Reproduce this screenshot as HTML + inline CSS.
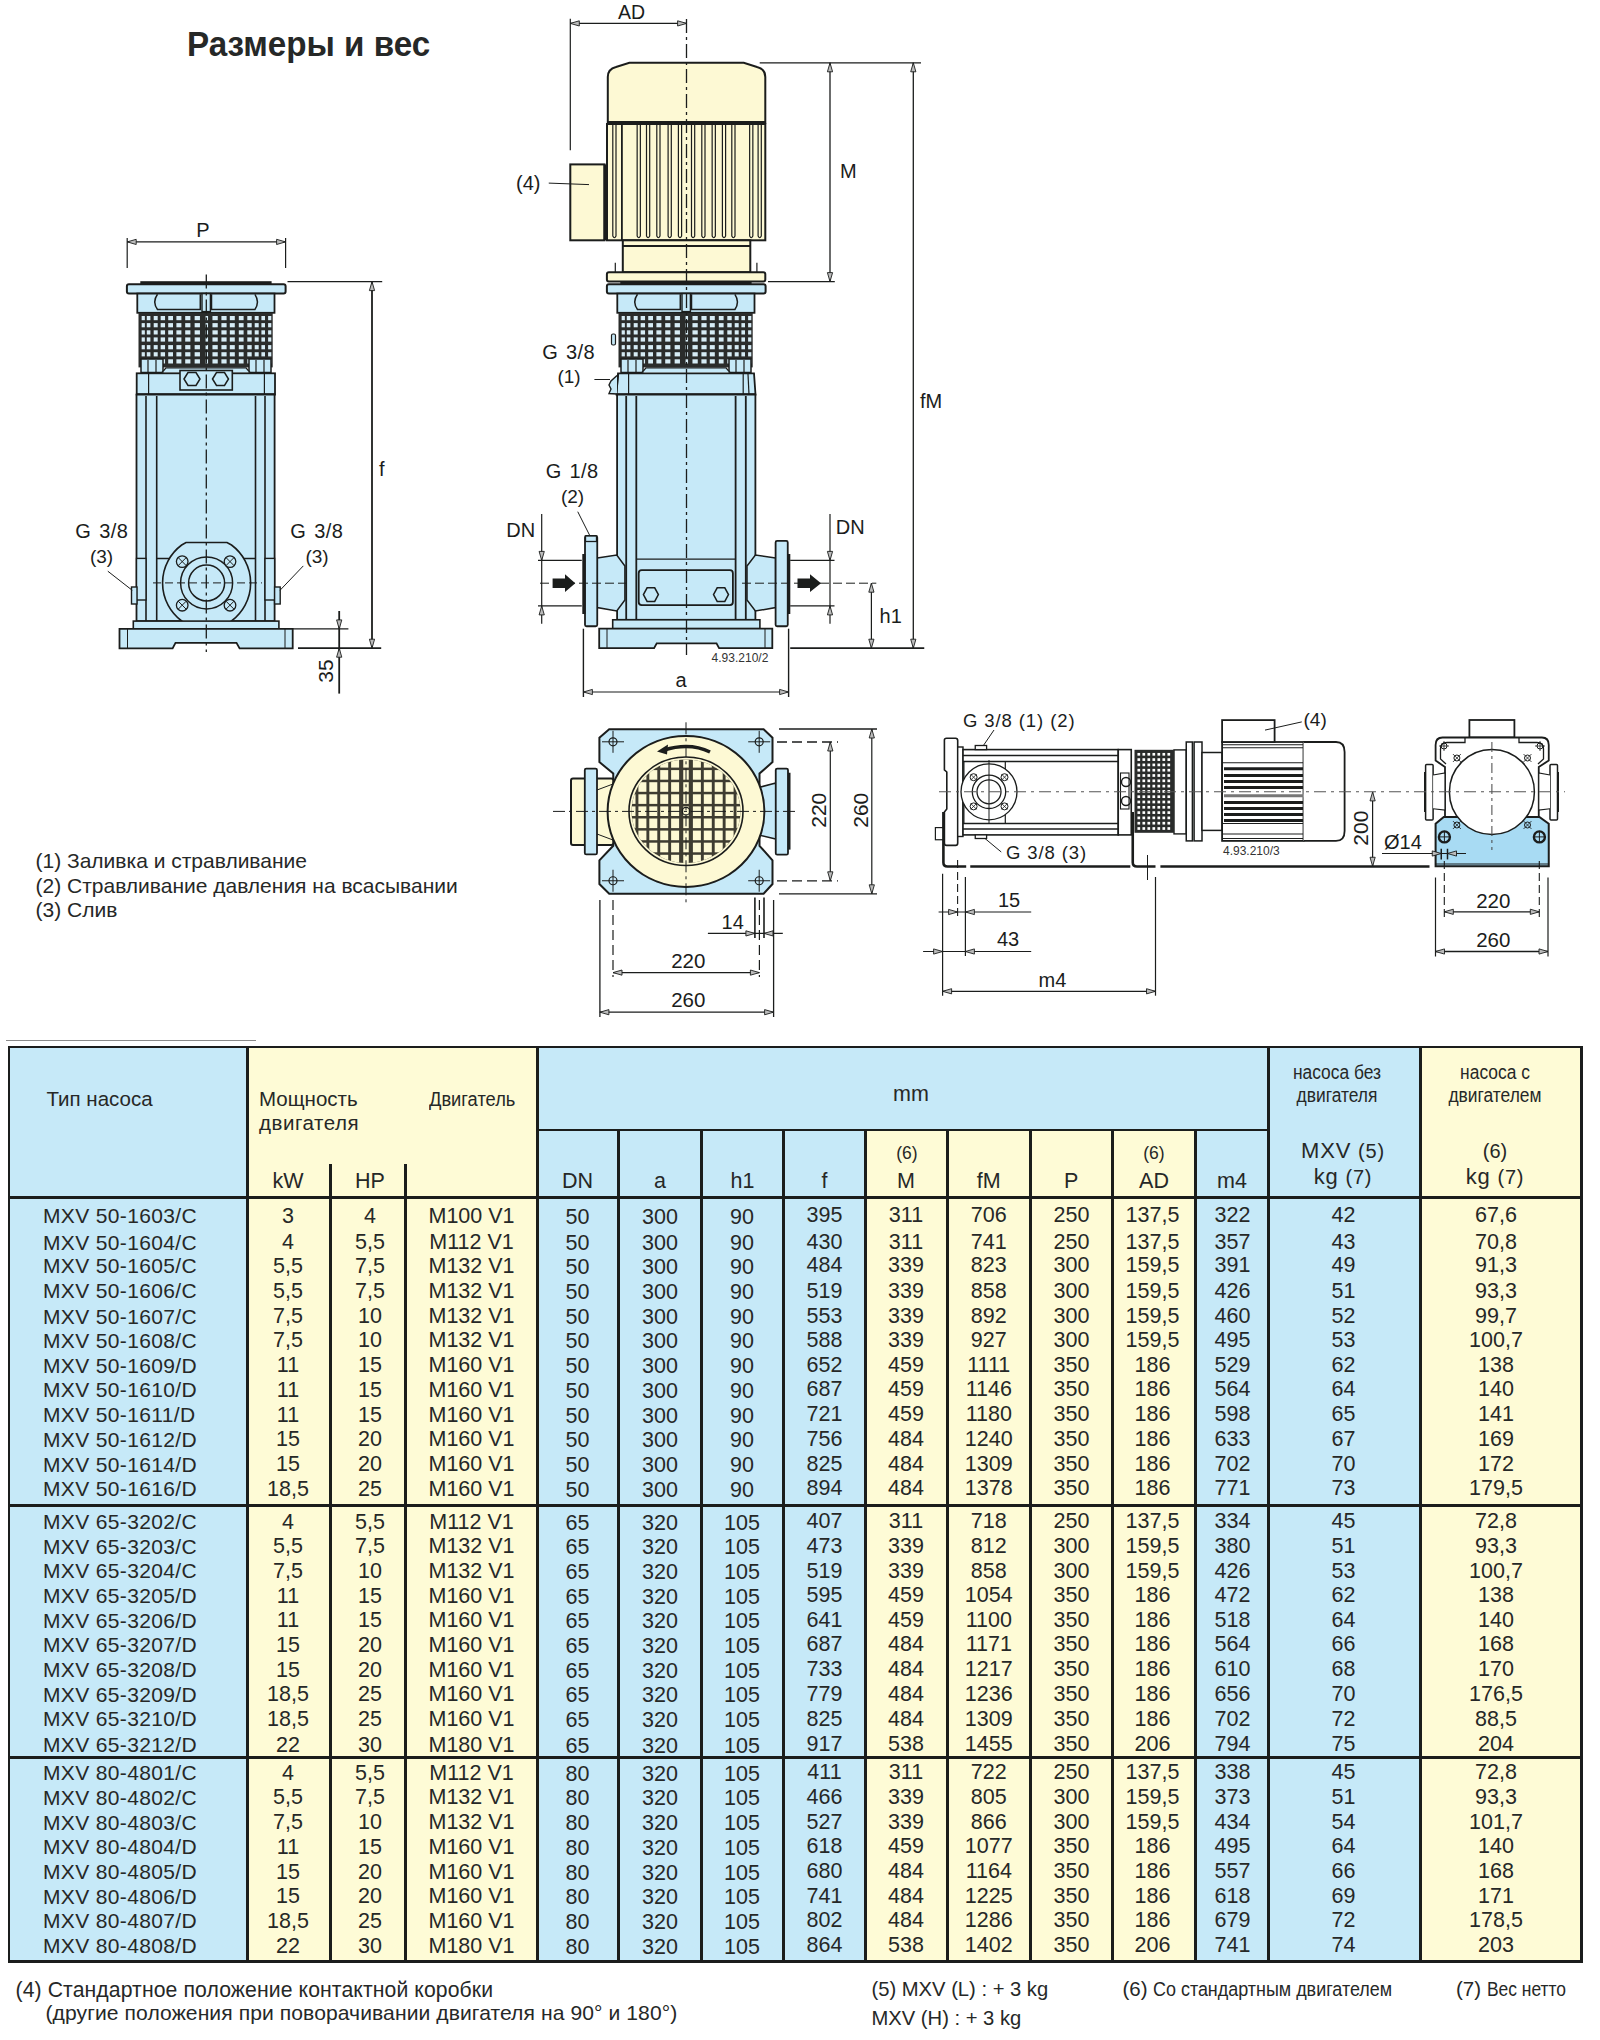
<!DOCTYPE html>
<html><head><meta charset="utf-8"><style>
html,body{margin:0;padding:0;background:#fff;}
body{width:1600px;height:2040px;position:relative;overflow:hidden;font-family:"Liberation Sans",sans-serif;color:#262827;}
.t{position:absolute;white-space:nowrap;line-height:1;}
.r{position:absolute;}
svg{position:absolute;left:0;top:0;}
</style></head><body>
<svg width="1600" height="2040" viewBox="0 0 1600 2040" font-family="Liberation Sans, sans-serif">
<rect x="140.3" y="281.2" width="131.3" height="3" fill="#1b1d1c"/>
<rect x="126.9" y="284.2" width="158.7" height="9.4" fill="#c6e9f8" stroke="#1b1d1c" stroke-width="2" rx="2"/>
<rect x="137.3" y="293.6" width="137.2" height="19.2" fill="#c6e9f8" stroke="#1b1d1c" stroke-width="1.8"/>
<path d="M157.5,294.3 Q152,302 157.5,309.5 L200.3,309.5 L200.3,294.3" fill="none" stroke="#1b1d1c" stroke-width="1.5" />
<path d="M254.9,294.3 Q260,302 254.9,309.5 L211.5,309.5 L211.5,294.3" fill="none" stroke="#1b1d1c" stroke-width="1.5" />
<rect x="202" y="293.6" width="8.4" height="18" fill="#c6e9f8" stroke="#1b1d1c" stroke-width="1.4"/>
<rect x="138.5" y="312.8" width="134.2" height="54.6" fill="#2a2c2b"/>
<rect x="141.65" y="316" width="3.2" height="4.2" fill="#d6ecf5"/>
<rect x="141.65" y="323.1" width="3.2" height="4.2" fill="#d6ecf5"/>
<rect x="141.65" y="330.3" width="3.2" height="4.2" fill="#d6ecf5"/>
<rect x="141.65" y="337.4" width="3.2" height="4.2" fill="#d6ecf5"/>
<rect x="141.65" y="345.1" width="3.2" height="4.2" fill="#d6ecf5"/>
<rect x="141.65" y="352.2" width="3.2" height="4.2" fill="#d6ecf5"/>
<rect x="141.65" y="359.3" width="3.2" height="4.2" fill="#d6ecf5"/>
<rect x="146.8" y="316" width="3.6" height="4.2" fill="#d6ecf5"/>
<rect x="146.8" y="323.1" width="3.6" height="4.2" fill="#d6ecf5"/>
<rect x="146.8" y="330.3" width="3.6" height="4.2" fill="#d6ecf5"/>
<rect x="146.8" y="337.4" width="3.6" height="4.2" fill="#d6ecf5"/>
<rect x="146.8" y="345.1" width="3.6" height="4.2" fill="#d6ecf5"/>
<rect x="146.8" y="352.2" width="3.6" height="4.2" fill="#d6ecf5"/>
<rect x="146.8" y="359.3" width="3.6" height="4.2" fill="#d6ecf5"/>
<rect x="153.7" y="316" width="4" height="4.2" fill="#d6ecf5"/>
<rect x="153.7" y="323.1" width="4" height="4.2" fill="#d6ecf5"/>
<rect x="153.7" y="330.3" width="4" height="4.2" fill="#d6ecf5"/>
<rect x="153.7" y="337.4" width="4" height="4.2" fill="#d6ecf5"/>
<rect x="153.7" y="345.1" width="4" height="4.2" fill="#d6ecf5"/>
<rect x="153.7" y="352.2" width="4" height="4.2" fill="#d6ecf5"/>
<rect x="153.7" y="359.3" width="4" height="4.2" fill="#d6ecf5"/>
<rect x="160.65" y="316" width="4.4" height="4.2" fill="#d6ecf5"/>
<rect x="160.65" y="323.1" width="4.4" height="4.2" fill="#d6ecf5"/>
<rect x="160.65" y="330.3" width="4.4" height="4.2" fill="#d6ecf5"/>
<rect x="160.65" y="337.4" width="4.4" height="4.2" fill="#d6ecf5"/>
<rect x="160.65" y="345.1" width="4.4" height="4.2" fill="#d6ecf5"/>
<rect x="160.65" y="352.2" width="4.4" height="4.2" fill="#d6ecf5"/>
<rect x="160.65" y="359.3" width="4.4" height="4.2" fill="#d6ecf5"/>
<rect x="168.2" y="316" width="4.8" height="4.2" fill="#d6ecf5"/>
<rect x="168.2" y="323.1" width="4.8" height="4.2" fill="#d6ecf5"/>
<rect x="168.2" y="330.3" width="4.8" height="4.2" fill="#d6ecf5"/>
<rect x="168.2" y="337.4" width="4.8" height="4.2" fill="#d6ecf5"/>
<rect x="168.2" y="345.1" width="4.8" height="4.2" fill="#d6ecf5"/>
<rect x="168.2" y="352.2" width="4.8" height="4.2" fill="#d6ecf5"/>
<rect x="168.2" y="359.3" width="4.8" height="4.2" fill="#d6ecf5"/>
<rect x="176.4" y="316" width="5" height="4.2" fill="#d6ecf5"/>
<rect x="176.4" y="323.1" width="5" height="4.2" fill="#d6ecf5"/>
<rect x="176.4" y="330.3" width="5" height="4.2" fill="#d6ecf5"/>
<rect x="176.4" y="337.4" width="5" height="4.2" fill="#d6ecf5"/>
<rect x="176.4" y="345.1" width="5" height="4.2" fill="#d6ecf5"/>
<rect x="176.4" y="352.2" width="5" height="4.2" fill="#d6ecf5"/>
<rect x="176.4" y="359.3" width="5" height="4.2" fill="#d6ecf5"/>
<rect x="185.2" y="316" width="5.2" height="4.2" fill="#d6ecf5"/>
<rect x="185.2" y="323.1" width="5.2" height="4.2" fill="#d6ecf5"/>
<rect x="185.2" y="330.3" width="5.2" height="4.2" fill="#d6ecf5"/>
<rect x="185.2" y="337.4" width="5.2" height="4.2" fill="#d6ecf5"/>
<rect x="185.2" y="345.1" width="5.2" height="4.2" fill="#d6ecf5"/>
<rect x="185.2" y="352.2" width="5.2" height="4.2" fill="#d6ecf5"/>
<rect x="185.2" y="359.3" width="5.2" height="4.2" fill="#d6ecf5"/>
<rect x="194.65" y="316" width="5.3" height="4.2" fill="#d6ecf5"/>
<rect x="194.65" y="323.1" width="5.3" height="4.2" fill="#d6ecf5"/>
<rect x="194.65" y="330.3" width="5.3" height="4.2" fill="#d6ecf5"/>
<rect x="194.65" y="337.4" width="5.3" height="4.2" fill="#d6ecf5"/>
<rect x="194.65" y="345.1" width="5.3" height="4.2" fill="#d6ecf5"/>
<rect x="194.65" y="352.2" width="5.3" height="4.2" fill="#d6ecf5"/>
<rect x="194.65" y="359.3" width="5.3" height="4.2" fill="#d6ecf5"/>
<rect x="205.55" y="316" width="2.5" height="4.2" fill="#d6ecf5"/>
<rect x="205.55" y="323.1" width="2.5" height="4.2" fill="#d6ecf5"/>
<rect x="205.55" y="330.3" width="2.5" height="4.2" fill="#d6ecf5"/>
<rect x="205.55" y="337.4" width="2.5" height="4.2" fill="#d6ecf5"/>
<rect x="205.55" y="345.1" width="2.5" height="4.2" fill="#d6ecf5"/>
<rect x="205.55" y="352.2" width="2.5" height="4.2" fill="#d6ecf5"/>
<rect x="205.55" y="359.3" width="2.5" height="4.2" fill="#d6ecf5"/>
<rect x="212.45" y="316" width="5.3" height="4.2" fill="#d6ecf5"/>
<rect x="212.45" y="323.1" width="5.3" height="4.2" fill="#d6ecf5"/>
<rect x="212.45" y="330.3" width="5.3" height="4.2" fill="#d6ecf5"/>
<rect x="212.45" y="337.4" width="5.3" height="4.2" fill="#d6ecf5"/>
<rect x="212.45" y="345.1" width="5.3" height="4.2" fill="#d6ecf5"/>
<rect x="212.45" y="352.2" width="5.3" height="4.2" fill="#d6ecf5"/>
<rect x="212.45" y="359.3" width="5.3" height="4.2" fill="#d6ecf5"/>
<rect x="221.4" y="316" width="5.2" height="4.2" fill="#d6ecf5"/>
<rect x="221.4" y="323.1" width="5.2" height="4.2" fill="#d6ecf5"/>
<rect x="221.4" y="330.3" width="5.2" height="4.2" fill="#d6ecf5"/>
<rect x="221.4" y="337.4" width="5.2" height="4.2" fill="#d6ecf5"/>
<rect x="221.4" y="345.1" width="5.2" height="4.2" fill="#d6ecf5"/>
<rect x="221.4" y="352.2" width="5.2" height="4.2" fill="#d6ecf5"/>
<rect x="221.4" y="359.3" width="5.2" height="4.2" fill="#d6ecf5"/>
<rect x="229.8" y="316" width="5" height="4.2" fill="#d6ecf5"/>
<rect x="229.8" y="323.1" width="5" height="4.2" fill="#d6ecf5"/>
<rect x="229.8" y="330.3" width="5" height="4.2" fill="#d6ecf5"/>
<rect x="229.8" y="337.4" width="5" height="4.2" fill="#d6ecf5"/>
<rect x="229.8" y="345.1" width="5" height="4.2" fill="#d6ecf5"/>
<rect x="229.8" y="352.2" width="5" height="4.2" fill="#d6ecf5"/>
<rect x="229.8" y="359.3" width="5" height="4.2" fill="#d6ecf5"/>
<rect x="238.8" y="316" width="4.8" height="4.2" fill="#d6ecf5"/>
<rect x="238.8" y="323.1" width="4.8" height="4.2" fill="#d6ecf5"/>
<rect x="238.8" y="330.3" width="4.8" height="4.2" fill="#d6ecf5"/>
<rect x="238.8" y="337.4" width="4.8" height="4.2" fill="#d6ecf5"/>
<rect x="238.8" y="345.1" width="4.8" height="4.2" fill="#d6ecf5"/>
<rect x="238.8" y="352.2" width="4.8" height="4.2" fill="#d6ecf5"/>
<rect x="238.8" y="359.3" width="4.8" height="4.2" fill="#d6ecf5"/>
<rect x="247.3" y="316" width="4.4" height="4.2" fill="#d6ecf5"/>
<rect x="247.3" y="323.1" width="4.4" height="4.2" fill="#d6ecf5"/>
<rect x="247.3" y="330.3" width="4.4" height="4.2" fill="#d6ecf5"/>
<rect x="247.3" y="337.4" width="4.4" height="4.2" fill="#d6ecf5"/>
<rect x="247.3" y="345.1" width="4.4" height="4.2" fill="#d6ecf5"/>
<rect x="247.3" y="352.2" width="4.4" height="4.2" fill="#d6ecf5"/>
<rect x="247.3" y="359.3" width="4.4" height="4.2" fill="#d6ecf5"/>
<rect x="254.7" y="316" width="4" height="4.2" fill="#d6ecf5"/>
<rect x="254.7" y="323.1" width="4" height="4.2" fill="#d6ecf5"/>
<rect x="254.7" y="330.3" width="4" height="4.2" fill="#d6ecf5"/>
<rect x="254.7" y="337.4" width="4" height="4.2" fill="#d6ecf5"/>
<rect x="254.7" y="345.1" width="4" height="4.2" fill="#d6ecf5"/>
<rect x="254.7" y="352.2" width="4" height="4.2" fill="#d6ecf5"/>
<rect x="254.7" y="359.3" width="4" height="4.2" fill="#d6ecf5"/>
<rect x="261.4" y="316" width="3.6" height="4.2" fill="#d6ecf5"/>
<rect x="261.4" y="323.1" width="3.6" height="4.2" fill="#d6ecf5"/>
<rect x="261.4" y="330.3" width="3.6" height="4.2" fill="#d6ecf5"/>
<rect x="261.4" y="337.4" width="3.6" height="4.2" fill="#d6ecf5"/>
<rect x="261.4" y="345.1" width="3.6" height="4.2" fill="#d6ecf5"/>
<rect x="261.4" y="352.2" width="3.6" height="4.2" fill="#d6ecf5"/>
<rect x="261.4" y="359.3" width="3.6" height="4.2" fill="#d6ecf5"/>
<rect x="268.1" y="316" width="3.2" height="4.2" fill="#d6ecf5"/>
<rect x="268.1" y="323.1" width="3.2" height="4.2" fill="#d6ecf5"/>
<rect x="268.1" y="330.3" width="3.2" height="4.2" fill="#d6ecf5"/>
<rect x="268.1" y="337.4" width="3.2" height="4.2" fill="#d6ecf5"/>
<rect x="268.1" y="345.1" width="3.2" height="4.2" fill="#d6ecf5"/>
<rect x="268.1" y="352.2" width="3.2" height="4.2" fill="#d6ecf5"/>
<rect x="268.1" y="359.3" width="3.2" height="4.2" fill="#d6ecf5"/>
<rect x="141" y="359" width="22" height="13.5" fill="#c6e9f8" stroke="#1b1d1c" stroke-width="1.5"/>
<rect x="249" y="359" width="22" height="13.5" fill="#c6e9f8" stroke="#1b1d1c" stroke-width="1.5"/>
<line x1="148" y1="360" x2="148" y2="372" stroke="#1b1d1c" stroke-width="1.2"/>
<line x1="156" y1="360" x2="156" y2="372" stroke="#1b1d1c" stroke-width="1.2"/>
<line x1="256" y1="360" x2="256" y2="372" stroke="#1b1d1c" stroke-width="1.2"/>
<line x1="264" y1="360" x2="264" y2="372" stroke="#1b1d1c" stroke-width="1.2"/>
<path d="M162,372.5 L166,367.8 L246,367.8 L250,372.5" fill="#c6e9f8" stroke="#1b1d1c" stroke-width="1.3" />
<rect x="136.7" y="373.3" width="138.3" height="21.3" fill="#c6e9f8" stroke="#1b1d1c" stroke-width="1.8"/>
<line x1="148.6" y1="373.3" x2="148.6" y2="394.6" stroke="#1b1d1c" stroke-width="1.2"/>
<line x1="264.4" y1="373.3" x2="264.4" y2="394.6" stroke="#1b1d1c" stroke-width="1.2"/>
<rect x="180" y="370.5" width="52.3" height="19.5" fill="#c6e9f8" stroke="#1b1d1c" stroke-width="1.6"/>
<polygon points="184,379 188,372.5 196,372.5 200,379 196,385.5 188,385.5" fill="#c6e9f8" stroke="#1b1d1c" stroke-width="1.5"/>
<polygon points="212.5,379 216.5,372.5 224.5,372.5 228.5,379 224.5,385.5 216.5,385.5" fill="#c6e9f8" stroke="#1b1d1c" stroke-width="1.5"/>
<line x1="136.7" y1="394.8" x2="275" y2="394.8" stroke="#1b1d1c" stroke-width="3"/>
<rect x="136.5" y="394.6" width="138.1" height="226.5" fill="#c6e9f8" stroke="#1b1d1c" stroke-width="1.8"/>
<line x1="146" y1="396" x2="146" y2="621" stroke="#1b1d1c" stroke-width="1.6"/>
<line x1="156.7" y1="396" x2="156.7" y2="621" stroke="#1b1d1c" stroke-width="1.6"/>
<line x1="255.5" y1="396" x2="255.5" y2="621" stroke="#1b1d1c" stroke-width="1.6"/>
<line x1="265" y1="396" x2="265" y2="621" stroke="#1b1d1c" stroke-width="1.6"/>
<line x1="156.7" y1="558.5" x2="255.5" y2="558.5" stroke="#1b1d1c" stroke-width="1.3"/>
<rect x="136.5" y="558.4" width="9.5" height="41.6" fill="#c6e9f8" stroke="#1b1d1c" stroke-width="1.4"/>
<rect x="265" y="558.4" width="9.6" height="41.6" fill="#c6e9f8" stroke="#1b1d1c" stroke-width="1.4"/>
<rect x="131.5" y="587" width="5.5" height="17" fill="#c6e9f8" stroke="#1b1d1c" stroke-width="1.4"/>
<rect x="274.6" y="587" width="5.6" height="17" fill="#c6e9f8" stroke="#1b1d1c" stroke-width="1.4"/>
<path d="M186,542.5 L227,542.5 L231.5,545 A47.3,47.3 0 0 1 231.5,621 L227,623.2 L186,623.2 L181.7,621 A47.3,47.3 0 0 1 181.7,545 Z" fill="#c6e9f8" stroke="#1b1d1c" stroke-width="1.6" />
<circle cx="206.6" cy="582.9" r="26" fill="#c6e9f8" stroke="#1b1d1c" stroke-width="1.5"/>
<circle cx="206.6" cy="582.9" r="18" fill="#c6e9f8" stroke="#1b1d1c" stroke-width="1.5"/>
<circle cx="182.2" cy="561.6" r="5.8" fill="#c6e9f8" stroke="#1b1d1c" stroke-width="1.3"/>
<line x1="178.2" y1="557.6" x2="186.2" y2="565.6" stroke="#1b1d1c" stroke-width="1"/>
<line x1="178.2" y1="565.6" x2="186.2" y2="557.6" stroke="#1b1d1c" stroke-width="1"/>
<circle cx="230" cy="561.6" r="5.8" fill="#c6e9f8" stroke="#1b1d1c" stroke-width="1.3"/>
<line x1="226" y1="557.6" x2="234" y2="565.6" stroke="#1b1d1c" stroke-width="1"/>
<line x1="226" y1="565.6" x2="234" y2="557.6" stroke="#1b1d1c" stroke-width="1"/>
<circle cx="182.2" cy="605.2" r="5.8" fill="#c6e9f8" stroke="#1b1d1c" stroke-width="1.3"/>
<line x1="178.2" y1="601.2" x2="186.2" y2="609.2" stroke="#1b1d1c" stroke-width="1"/>
<line x1="178.2" y1="609.2" x2="186.2" y2="601.2" stroke="#1b1d1c" stroke-width="1"/>
<circle cx="230" cy="605.2" r="5.8" fill="#c6e9f8" stroke="#1b1d1c" stroke-width="1.3"/>
<line x1="226" y1="601.2" x2="234" y2="609.2" stroke="#1b1d1c" stroke-width="1"/>
<line x1="226" y1="609.2" x2="234" y2="601.2" stroke="#1b1d1c" stroke-width="1"/>
<line x1="153" y1="582.9" x2="262" y2="582.9" stroke="#1b1d1c" stroke-width="1" stroke-dasharray="8 4"/>
<rect x="133.3" y="621.1" width="145.6" height="7.7" fill="#c6e9f8" stroke="#1b1d1c" stroke-width="1.6"/>
<path d="M119.5,628.8 L292.7,628.8 L292.7,648.4 L239.6,648.4 L236.5,642.8 L175.5,642.8 L172.6,648.4 L119.5,648.4 Z" fill="#c6e9f8" stroke="#1b1d1c" stroke-width="1.8" />
<line x1="127.5" y1="629" x2="127.5" y2="648" stroke="#1b1d1c" stroke-width="1"/>
<line x1="285" y1="629" x2="285" y2="648" stroke="#1b1d1c" stroke-width="1"/>
<line x1="206.3" y1="274.5" x2="206.3" y2="652" stroke="#1b1d1c" stroke-width="1.3" stroke-dasharray="14 4 3 4"/>
<line x1="127.2" y1="238.1" x2="127.2" y2="268.1" stroke="#1b1d1c" stroke-width="1.2"/>
<line x1="285.6" y1="238.1" x2="285.6" y2="268.1" stroke="#1b1d1c" stroke-width="1.2"/>
<line x1="127.2" y1="241.9" x2="285.6" y2="241.9" stroke="#1b1d1c" stroke-width="1.1"/>
<polygon points="127.2,241.9 136.2,239.3 136.2,244.5" fill="#bbb" stroke="#1b1d1c" stroke-width="0.9"/>
<polygon points="285.6,241.9 276.6,239.3 276.6,244.5" fill="#bbb" stroke="#1b1d1c" stroke-width="0.9"/>
<text x="202.9" y="237.2" font-size="20" text-anchor="middle" fill="#1b1d1c">P</text>
<line x1="287.5" y1="281.6" x2="382.2" y2="281.6" stroke="#1b1d1c" stroke-width="1.3"/>
<line x1="298" y1="648.2" x2="381.2" y2="648.2" stroke="#1b1d1c" stroke-width="1.8"/>
<line x1="372" y1="281.6" x2="372" y2="648.2" stroke="#1b1d1c" stroke-width="1.8"/>
<polygon points="372,281.6 369.4,290.6 374.6,290.6" fill="#bbb" stroke="#1b1d1c" stroke-width="0.9"/>
<polygon points="372,648.2 369.4,639.2 374.6,639.2" fill="#bbb" stroke="#1b1d1c" stroke-width="0.9"/>
<text x="379" y="475.5" font-size="20" text-anchor="start" fill="#1b1d1c">f</text>
<line x1="292.8" y1="628.9" x2="348.4" y2="628.9" stroke="#1b1d1c" stroke-width="1.3"/>
<line x1="339.2" y1="611" x2="339.2" y2="693.6" stroke="#1b1d1c" stroke-width="1.8"/>
<polygon points="339.2,628.9 336.6,619.9 341.8,619.9" fill="#bbb" stroke="#1b1d1c" stroke-width="0.9"/>
<polygon points="339.2,648.2 336.6,657.2 341.8,657.2" fill="#bbb" stroke="#1b1d1c" stroke-width="0.9"/>
<text x="333.4" y="671.1" font-size="21" text-anchor="middle" fill="#1b1d1c" transform="rotate(-90 333.4 671.1)">35</text>
<text x="75.3" y="537.8" font-size="20" text-anchor="start" fill="#1b1d1c">G</text>
<text x="128.3" y="537.8" font-size="20" text-anchor="end" fill="#1b1d1c" letter-spacing="0.4">3/8</text>
<text x="101.5" y="562.5" font-size="19" text-anchor="middle" fill="#1b1d1c">(3)</text>
<line x1="107.8" y1="571.2" x2="132.25" y2="590.3" stroke="#1b1d1c" stroke-width="1"/>
<text x="290.3" y="537.8" font-size="20" text-anchor="start" fill="#1b1d1c">G</text>
<text x="343.3" y="537.8" font-size="20" text-anchor="end" fill="#1b1d1c" letter-spacing="0.4">3/8</text>
<text x="317" y="562.5" font-size="19" text-anchor="middle" fill="#1b1d1c">(3)</text>
<line x1="303.3" y1="565.9" x2="280" y2="590.3" stroke="#1b1d1c" stroke-width="1"/>
<path d="M607.8,122.8 L607.8,77 Q607.8,69 616,67 L629.4,62.8 L743.75,62.8 L757,67 Q765.3,69 765.3,77 L765.3,122.8 Z" fill="#fdf9d4" stroke="#1b1d1c" stroke-width="2" />
<rect x="607" y="121" width="158.3" height="3" fill="#1b1d1c"/>
<rect x="607" y="124" width="158.3" height="116.3" fill="#fdf9d4" stroke="#1b1d1c" stroke-width="2"/>
<path d="M612.8,124 L612.8,236 Q614.4,239.5 616,236 L616,124" fill="none" stroke="#1b1d1c" stroke-width="1.2" />
<path d="M637.15,124 L637.15,236 Q638.75,239.5 640.35,236 L640.35,124" fill="none" stroke="#1b1d1c" stroke-width="1.2" />
<path d="M646.5,124 L646.5,236 Q648.1,239.5 649.7,236 L649.7,124" fill="none" stroke="#1b1d1c" stroke-width="1.2" />
<path d="M656.8,124 L656.8,236 Q658.4,239.5 660,236 L660,124" fill="none" stroke="#1b1d1c" stroke-width="1.2" />
<path d="M668.1,124 L668.1,236 Q669.7,239.5 671.3,236 L671.3,124" fill="none" stroke="#1b1d1c" stroke-width="1.2" />
<path d="M678.4,124 L678.4,236 Q680,239.5 681.6,236 L681.6,124" fill="none" stroke="#1b1d1c" stroke-width="1.2" />
<path d="M691.5,124 L691.5,236 Q693.1,239.5 694.7,236 L694.7,124" fill="none" stroke="#1b1d1c" stroke-width="1.2" />
<path d="M701.8,124 L701.8,236 Q703.4,239.5 705,236 L705,124" fill="none" stroke="#1b1d1c" stroke-width="1.2" />
<path d="M712.15,124 L712.15,236 Q713.75,239.5 715.35,236 L715.35,124" fill="none" stroke="#1b1d1c" stroke-width="1.2" />
<path d="M722.4,124 L722.4,236 Q724,239.5 725.6,236 L725.6,124" fill="none" stroke="#1b1d1c" stroke-width="1.2" />
<path d="M731.8,124 L731.8,236 Q733.4,239.5 735,236 L735,124" fill="none" stroke="#1b1d1c" stroke-width="1.2" />
<path d="M749.65,124 L749.65,236 Q751.25,239.5 752.85,236 L752.85,124" fill="none" stroke="#1b1d1c" stroke-width="1.2" />
<path d="M758.1,124 L758.1,236 Q759.7,239.5 761.3,236 L761.3,124" fill="none" stroke="#1b1d1c" stroke-width="1.2" />
<line x1="621.9" y1="124" x2="621.9" y2="240" stroke="#1b1d1c" stroke-width="1.8"/>
<rect x="570.3" y="164.4" width="34.2" height="75.9" fill="#fdf9d4" stroke="#1b1d1c" stroke-width="2"/>
<rect x="603.5" y="164.4" width="4" height="75.9" fill="#1b1d1c"/>
<rect x="622.8" y="240.3" width="127.5" height="31.9" fill="#fdf9d4" stroke="#1b1d1c" stroke-width="2"/>
<line x1="622.8" y1="246" x2="750.3" y2="246" stroke="#1b1d1c" stroke-width="1.8"/>
<line x1="615.3" y1="262.8" x2="615.3" y2="272" stroke="#1b1d1c" stroke-width="1.2"/>
<line x1="756.9" y1="262.8" x2="756.9" y2="272" stroke="#1b1d1c" stroke-width="1.2"/>
<rect x="606.9" y="272.2" width="158.4" height="9.4" fill="#fdf9d4" stroke="#1b1d1c" stroke-width="2" rx="2"/>
<rect x="620.3" y="281.2" width="131.3" height="3" fill="#1b1d1c"/>
<rect x="606.9" y="284.2" width="158.7" height="9.4" fill="#c6e9f8" stroke="#1b1d1c" stroke-width="2" rx="2"/>
<rect x="617.3" y="293.6" width="137.2" height="19.2" fill="#c6e9f8" stroke="#1b1d1c" stroke-width="1.8"/>
<path d="M637.5,294.3 Q632,302 637.5,309.5 L680.3,309.5 L680.3,294.3" fill="none" stroke="#1b1d1c" stroke-width="1.5" />
<path d="M734.9,294.3 Q740,302 734.9,309.5 L691.5,309.5 L691.5,294.3" fill="none" stroke="#1b1d1c" stroke-width="1.5" />
<rect x="682" y="293.6" width="8.4" height="18" fill="#c6e9f8" stroke="#1b1d1c" stroke-width="1.4"/>
<rect x="618.5" y="312.8" width="134.2" height="54.6" fill="#2a2c2b"/>
<rect x="621.65" y="316" width="3.2" height="4.2" fill="#d6ecf5"/>
<rect x="621.65" y="323.1" width="3.2" height="4.2" fill="#d6ecf5"/>
<rect x="621.65" y="330.3" width="3.2" height="4.2" fill="#d6ecf5"/>
<rect x="621.65" y="337.4" width="3.2" height="4.2" fill="#d6ecf5"/>
<rect x="621.65" y="345.1" width="3.2" height="4.2" fill="#d6ecf5"/>
<rect x="621.65" y="352.2" width="3.2" height="4.2" fill="#d6ecf5"/>
<rect x="621.65" y="359.3" width="3.2" height="4.2" fill="#d6ecf5"/>
<rect x="626.8" y="316" width="3.6" height="4.2" fill="#d6ecf5"/>
<rect x="626.8" y="323.1" width="3.6" height="4.2" fill="#d6ecf5"/>
<rect x="626.8" y="330.3" width="3.6" height="4.2" fill="#d6ecf5"/>
<rect x="626.8" y="337.4" width="3.6" height="4.2" fill="#d6ecf5"/>
<rect x="626.8" y="345.1" width="3.6" height="4.2" fill="#d6ecf5"/>
<rect x="626.8" y="352.2" width="3.6" height="4.2" fill="#d6ecf5"/>
<rect x="626.8" y="359.3" width="3.6" height="4.2" fill="#d6ecf5"/>
<rect x="633.7" y="316" width="4" height="4.2" fill="#d6ecf5"/>
<rect x="633.7" y="323.1" width="4" height="4.2" fill="#d6ecf5"/>
<rect x="633.7" y="330.3" width="4" height="4.2" fill="#d6ecf5"/>
<rect x="633.7" y="337.4" width="4" height="4.2" fill="#d6ecf5"/>
<rect x="633.7" y="345.1" width="4" height="4.2" fill="#d6ecf5"/>
<rect x="633.7" y="352.2" width="4" height="4.2" fill="#d6ecf5"/>
<rect x="633.7" y="359.3" width="4" height="4.2" fill="#d6ecf5"/>
<rect x="640.65" y="316" width="4.4" height="4.2" fill="#d6ecf5"/>
<rect x="640.65" y="323.1" width="4.4" height="4.2" fill="#d6ecf5"/>
<rect x="640.65" y="330.3" width="4.4" height="4.2" fill="#d6ecf5"/>
<rect x="640.65" y="337.4" width="4.4" height="4.2" fill="#d6ecf5"/>
<rect x="640.65" y="345.1" width="4.4" height="4.2" fill="#d6ecf5"/>
<rect x="640.65" y="352.2" width="4.4" height="4.2" fill="#d6ecf5"/>
<rect x="640.65" y="359.3" width="4.4" height="4.2" fill="#d6ecf5"/>
<rect x="648.2" y="316" width="4.8" height="4.2" fill="#d6ecf5"/>
<rect x="648.2" y="323.1" width="4.8" height="4.2" fill="#d6ecf5"/>
<rect x="648.2" y="330.3" width="4.8" height="4.2" fill="#d6ecf5"/>
<rect x="648.2" y="337.4" width="4.8" height="4.2" fill="#d6ecf5"/>
<rect x="648.2" y="345.1" width="4.8" height="4.2" fill="#d6ecf5"/>
<rect x="648.2" y="352.2" width="4.8" height="4.2" fill="#d6ecf5"/>
<rect x="648.2" y="359.3" width="4.8" height="4.2" fill="#d6ecf5"/>
<rect x="656.4" y="316" width="5" height="4.2" fill="#d6ecf5"/>
<rect x="656.4" y="323.1" width="5" height="4.2" fill="#d6ecf5"/>
<rect x="656.4" y="330.3" width="5" height="4.2" fill="#d6ecf5"/>
<rect x="656.4" y="337.4" width="5" height="4.2" fill="#d6ecf5"/>
<rect x="656.4" y="345.1" width="5" height="4.2" fill="#d6ecf5"/>
<rect x="656.4" y="352.2" width="5" height="4.2" fill="#d6ecf5"/>
<rect x="656.4" y="359.3" width="5" height="4.2" fill="#d6ecf5"/>
<rect x="665.2" y="316" width="5.2" height="4.2" fill="#d6ecf5"/>
<rect x="665.2" y="323.1" width="5.2" height="4.2" fill="#d6ecf5"/>
<rect x="665.2" y="330.3" width="5.2" height="4.2" fill="#d6ecf5"/>
<rect x="665.2" y="337.4" width="5.2" height="4.2" fill="#d6ecf5"/>
<rect x="665.2" y="345.1" width="5.2" height="4.2" fill="#d6ecf5"/>
<rect x="665.2" y="352.2" width="5.2" height="4.2" fill="#d6ecf5"/>
<rect x="665.2" y="359.3" width="5.2" height="4.2" fill="#d6ecf5"/>
<rect x="674.65" y="316" width="5.3" height="4.2" fill="#d6ecf5"/>
<rect x="674.65" y="323.1" width="5.3" height="4.2" fill="#d6ecf5"/>
<rect x="674.65" y="330.3" width="5.3" height="4.2" fill="#d6ecf5"/>
<rect x="674.65" y="337.4" width="5.3" height="4.2" fill="#d6ecf5"/>
<rect x="674.65" y="345.1" width="5.3" height="4.2" fill="#d6ecf5"/>
<rect x="674.65" y="352.2" width="5.3" height="4.2" fill="#d6ecf5"/>
<rect x="674.65" y="359.3" width="5.3" height="4.2" fill="#d6ecf5"/>
<rect x="685.55" y="316" width="2.5" height="4.2" fill="#d6ecf5"/>
<rect x="685.55" y="323.1" width="2.5" height="4.2" fill="#d6ecf5"/>
<rect x="685.55" y="330.3" width="2.5" height="4.2" fill="#d6ecf5"/>
<rect x="685.55" y="337.4" width="2.5" height="4.2" fill="#d6ecf5"/>
<rect x="685.55" y="345.1" width="2.5" height="4.2" fill="#d6ecf5"/>
<rect x="685.55" y="352.2" width="2.5" height="4.2" fill="#d6ecf5"/>
<rect x="685.55" y="359.3" width="2.5" height="4.2" fill="#d6ecf5"/>
<rect x="692.45" y="316" width="5.3" height="4.2" fill="#d6ecf5"/>
<rect x="692.45" y="323.1" width="5.3" height="4.2" fill="#d6ecf5"/>
<rect x="692.45" y="330.3" width="5.3" height="4.2" fill="#d6ecf5"/>
<rect x="692.45" y="337.4" width="5.3" height="4.2" fill="#d6ecf5"/>
<rect x="692.45" y="345.1" width="5.3" height="4.2" fill="#d6ecf5"/>
<rect x="692.45" y="352.2" width="5.3" height="4.2" fill="#d6ecf5"/>
<rect x="692.45" y="359.3" width="5.3" height="4.2" fill="#d6ecf5"/>
<rect x="701.4" y="316" width="5.2" height="4.2" fill="#d6ecf5"/>
<rect x="701.4" y="323.1" width="5.2" height="4.2" fill="#d6ecf5"/>
<rect x="701.4" y="330.3" width="5.2" height="4.2" fill="#d6ecf5"/>
<rect x="701.4" y="337.4" width="5.2" height="4.2" fill="#d6ecf5"/>
<rect x="701.4" y="345.1" width="5.2" height="4.2" fill="#d6ecf5"/>
<rect x="701.4" y="352.2" width="5.2" height="4.2" fill="#d6ecf5"/>
<rect x="701.4" y="359.3" width="5.2" height="4.2" fill="#d6ecf5"/>
<rect x="709.8" y="316" width="5" height="4.2" fill="#d6ecf5"/>
<rect x="709.8" y="323.1" width="5" height="4.2" fill="#d6ecf5"/>
<rect x="709.8" y="330.3" width="5" height="4.2" fill="#d6ecf5"/>
<rect x="709.8" y="337.4" width="5" height="4.2" fill="#d6ecf5"/>
<rect x="709.8" y="345.1" width="5" height="4.2" fill="#d6ecf5"/>
<rect x="709.8" y="352.2" width="5" height="4.2" fill="#d6ecf5"/>
<rect x="709.8" y="359.3" width="5" height="4.2" fill="#d6ecf5"/>
<rect x="718.8" y="316" width="4.8" height="4.2" fill="#d6ecf5"/>
<rect x="718.8" y="323.1" width="4.8" height="4.2" fill="#d6ecf5"/>
<rect x="718.8" y="330.3" width="4.8" height="4.2" fill="#d6ecf5"/>
<rect x="718.8" y="337.4" width="4.8" height="4.2" fill="#d6ecf5"/>
<rect x="718.8" y="345.1" width="4.8" height="4.2" fill="#d6ecf5"/>
<rect x="718.8" y="352.2" width="4.8" height="4.2" fill="#d6ecf5"/>
<rect x="718.8" y="359.3" width="4.8" height="4.2" fill="#d6ecf5"/>
<rect x="727.3" y="316" width="4.4" height="4.2" fill="#d6ecf5"/>
<rect x="727.3" y="323.1" width="4.4" height="4.2" fill="#d6ecf5"/>
<rect x="727.3" y="330.3" width="4.4" height="4.2" fill="#d6ecf5"/>
<rect x="727.3" y="337.4" width="4.4" height="4.2" fill="#d6ecf5"/>
<rect x="727.3" y="345.1" width="4.4" height="4.2" fill="#d6ecf5"/>
<rect x="727.3" y="352.2" width="4.4" height="4.2" fill="#d6ecf5"/>
<rect x="727.3" y="359.3" width="4.4" height="4.2" fill="#d6ecf5"/>
<rect x="734.7" y="316" width="4" height="4.2" fill="#d6ecf5"/>
<rect x="734.7" y="323.1" width="4" height="4.2" fill="#d6ecf5"/>
<rect x="734.7" y="330.3" width="4" height="4.2" fill="#d6ecf5"/>
<rect x="734.7" y="337.4" width="4" height="4.2" fill="#d6ecf5"/>
<rect x="734.7" y="345.1" width="4" height="4.2" fill="#d6ecf5"/>
<rect x="734.7" y="352.2" width="4" height="4.2" fill="#d6ecf5"/>
<rect x="734.7" y="359.3" width="4" height="4.2" fill="#d6ecf5"/>
<rect x="741.4" y="316" width="3.6" height="4.2" fill="#d6ecf5"/>
<rect x="741.4" y="323.1" width="3.6" height="4.2" fill="#d6ecf5"/>
<rect x="741.4" y="330.3" width="3.6" height="4.2" fill="#d6ecf5"/>
<rect x="741.4" y="337.4" width="3.6" height="4.2" fill="#d6ecf5"/>
<rect x="741.4" y="345.1" width="3.6" height="4.2" fill="#d6ecf5"/>
<rect x="741.4" y="352.2" width="3.6" height="4.2" fill="#d6ecf5"/>
<rect x="741.4" y="359.3" width="3.6" height="4.2" fill="#d6ecf5"/>
<rect x="748.1" y="316" width="3.2" height="4.2" fill="#d6ecf5"/>
<rect x="748.1" y="323.1" width="3.2" height="4.2" fill="#d6ecf5"/>
<rect x="748.1" y="330.3" width="3.2" height="4.2" fill="#d6ecf5"/>
<rect x="748.1" y="337.4" width="3.2" height="4.2" fill="#d6ecf5"/>
<rect x="748.1" y="345.1" width="3.2" height="4.2" fill="#d6ecf5"/>
<rect x="748.1" y="352.2" width="3.2" height="4.2" fill="#d6ecf5"/>
<rect x="748.1" y="359.3" width="3.2" height="4.2" fill="#d6ecf5"/>
<rect x="621" y="359" width="22" height="13.5" fill="#c6e9f8" stroke="#1b1d1c" stroke-width="1.5"/>
<rect x="729" y="359" width="22" height="13.5" fill="#c6e9f8" stroke="#1b1d1c" stroke-width="1.5"/>
<line x1="628" y1="360" x2="628" y2="372" stroke="#1b1d1c" stroke-width="1.2"/>
<line x1="636" y1="360" x2="636" y2="372" stroke="#1b1d1c" stroke-width="1.2"/>
<line x1="736" y1="360" x2="736" y2="372" stroke="#1b1d1c" stroke-width="1.2"/>
<line x1="744" y1="360" x2="744" y2="372" stroke="#1b1d1c" stroke-width="1.2"/>
<path d="M642,372.5 L646,367.8 L726,367.8 L730,372.5" fill="#c6e9f8" stroke="#1b1d1c" stroke-width="1.3" />
<path d="M618,373.3 L754,373.3 L755.5,394.6 L616.5,394.6 Z" fill="#c6e9f8" stroke="#1b1d1c" stroke-width="1.8" />
<line x1="618.5" y1="374" x2="616.5" y2="394" stroke="#1b1d1c" stroke-width="1.2"/>
<line x1="628.6" y1="374" x2="628.6" y2="394.6" stroke="#1b1d1c" stroke-width="1.2"/>
<line x1="743.2" y1="374" x2="743.2" y2="394.6" stroke="#1b1d1c" stroke-width="1.2"/>
<line x1="748" y1="374" x2="749" y2="394.6" stroke="#1b1d1c" stroke-width="1.2"/>
<path d="M617,375.5 L611,381 L609,385 L611,389 L609,393.5 L617,394" fill="#c6e9f8" stroke="#1b1d1c" stroke-width="1.4" />
<rect x="611.5" y="334" width="4" height="11" fill="#c6e9f8" stroke="#1b1d1c" stroke-width="1.2" rx="1.5"/>
<line x1="616.7" y1="394.8" x2="755" y2="394.8" stroke="#1b1d1c" stroke-width="3"/>
<rect x="617.1" y="394.6" width="138.3" height="225.2" fill="#c6e9f8" stroke="#1b1d1c" stroke-width="1.8"/>
<line x1="626.2" y1="396" x2="626.2" y2="619.8" stroke="#1b1d1c" stroke-width="1.8"/>
<line x1="636.3" y1="396" x2="636.3" y2="619.8" stroke="#1b1d1c" stroke-width="1.8"/>
<line x1="735.6" y1="396" x2="735.6" y2="619.8" stroke="#1b1d1c" stroke-width="1.8"/>
<line x1="745.8" y1="396" x2="745.8" y2="619.8" stroke="#1b1d1c" stroke-width="1.8"/>
<line x1="636.3" y1="559.1" x2="735.6" y2="559.1" stroke="#1b1d1c" stroke-width="1.3"/>
<path d="M597.25,558 L616.75,555 L624.9,566 L624.9,600 L616.75,611 L597.25,607.6 Z" fill="#c6e9f8" stroke="#1b1d1c" stroke-width="1.5" />
<path d="M775.6,558 L755.4,555 L747,566 L747,600 L755.4,611 L775.6,607.6 Z" fill="#c6e9f8" stroke="#1b1d1c" stroke-width="1.5" />
<rect x="585" y="536" width="12.25" height="90.25" fill="#c6e9f8" stroke="#1b1d1c" stroke-width="1.8" rx="1.5"/>
<rect x="582.3" y="554" width="3.2" height="60" fill="#1b1d1c"/>
<rect x="585.5" y="536" width="11" height="5.5" fill="#c6e9f8" stroke="#1b1d1c" stroke-width="1.3"/>
<rect x="775.6" y="540.9" width="12.15" height="85.35" fill="#c6e9f8" stroke="#1b1d1c" stroke-width="1.8" rx="1.5"/>
<rect x="787.5" y="554" width="2.8" height="60" fill="#1b1d1c"/>
<rect x="638.7" y="570.2" width="94.2" height="34.9" fill="#c6e9f8" stroke="#1b1d1c" stroke-width="1.8" rx="3"/>
<polygon points="643.4,594.6 647.1,587.8 654.7,587.8 658.4,594.6 654.7,601.4 647.1,601.4" fill="#c6e9f8" stroke="#1b1d1c" stroke-width="1.5"/>
<polygon points="713.5,594.6 717.2,587.8 724.8,587.8 728.5,594.6 724.8,601.4 717.2,601.4" fill="#c6e9f8" stroke="#1b1d1c" stroke-width="1.5"/>
<polygon points="552.6,578.5 565,578.5 565,574.2 575.3,583.2 565,592.1 565,588 552.6,588" fill="#1b1d1c"/>
<polygon points="797.5,578.5 810,578.5 810,574.2 821,583.2 810,592.1 810,588 797.5,588" fill="#1b1d1c"/>
<rect x="612.7" y="619.8" width="147.2" height="8.9" fill="#c6e9f8" stroke="#1b1d1c" stroke-width="1.6"/>
<path d="M599.2,628.7 L772.3,628.7 L772.3,648.2 L719.1,648.2 L716.5,643.3 L656.7,643.3 L654.1,648.2 L599.2,648.2 Z" fill="#c6e9f8" stroke="#1b1d1c" stroke-width="1.8" />
<line x1="607" y1="629" x2="607" y2="648" stroke="#1b1d1c" stroke-width="1"/>
<line x1="765" y1="629" x2="765" y2="648" stroke="#1b1d1c" stroke-width="1"/>
<line x1="686.5" y1="19" x2="686.5" y2="655" stroke="#1b1d1c" stroke-width="1.3" stroke-dasharray="14 4 3 4"/>
<line x1="540" y1="583.2" x2="630" y2="583.2" stroke="#1b1d1c" stroke-width="1" stroke-dasharray="9 4"/>
<line x1="742" y1="583.2" x2="876.3" y2="583.2" stroke="#1b1d1c" stroke-width="1" stroke-dasharray="9 4"/>
<text x="711.6" y="662" font-size="12" text-anchor="start" fill="#333">4.93.210/2</text>
<line x1="570.3" y1="18.75" x2="570.3" y2="150.3" stroke="#1b1d1c" stroke-width="1.2"/>
<line x1="570.3" y1="23.4" x2="686.6" y2="23.4" stroke="#1b1d1c" stroke-width="1.1"/>
<polygon points="570.3,23.4 579.3,20.8 579.3,26" fill="#bbb" stroke="#1b1d1c" stroke-width="0.9"/>
<polygon points="686.6,23.4 677.6,20.8 677.6,26" fill="#bbb" stroke="#1b1d1c" stroke-width="0.9"/>
<text x="618" y="18.75" font-size="19.5" text-anchor="start" fill="#1b1d1c">AD</text>
<line x1="759.7" y1="62.8" x2="921" y2="62.8" stroke="#1b1d1c" stroke-width="1.3"/>
<line x1="768" y1="281.6" x2="834.8" y2="281.6" stroke="#1b1d1c" stroke-width="1.3"/>
<line x1="830" y1="62.8" x2="830" y2="281.6" stroke="#1b1d1c" stroke-width="1.3"/>
<polygon points="830,62.8 827.4,71.8 832.6,71.8" fill="#bbb" stroke="#1b1d1c" stroke-width="0.9"/>
<polygon points="830,281.6 827.4,272.6 832.6,272.6" fill="#bbb" stroke="#1b1d1c" stroke-width="0.9"/>
<text x="839.9" y="177.7" font-size="20" text-anchor="start" fill="#1b1d1c">M</text>
<line x1="913.3" y1="62.8" x2="913.3" y2="648.2" stroke="#1b1d1c" stroke-width="1.3"/>
<polygon points="913.3,62.8 910.7,71.8 915.9,71.8" fill="#bbb" stroke="#1b1d1c" stroke-width="0.9"/>
<polygon points="913.3,648.2 910.7,639.2 915.9,639.2" fill="#bbb" stroke="#1b1d1c" stroke-width="0.9"/>
<text x="919.9" y="407.6" font-size="20" text-anchor="start" fill="#1b1d1c">fM</text>
<line x1="790.2" y1="648.2" x2="924.25" y2="648.2" stroke="#1b1d1c" stroke-width="1.8"/>
<text x="516" y="190" font-size="20" text-anchor="start" fill="#1b1d1c">(4)</text>
<line x1="548.75" y1="183.1" x2="589" y2="184.6" stroke="#1b1d1c" stroke-width="1"/>
<text x="542.3" y="359.4" font-size="20" text-anchor="start" fill="#1b1d1c">G</text>
<text x="595.1" y="359.4" font-size="20" text-anchor="end" fill="#1b1d1c" letter-spacing="0.4">3/8</text>
<text x="569" y="383" font-size="19" text-anchor="middle" fill="#1b1d1c">(1)</text>
<line x1="594.4" y1="379.5" x2="610" y2="379.5" stroke="#1b1d1c" stroke-width="1"/>
<text x="545.7" y="477.9" font-size="20" text-anchor="start" fill="#1b1d1c">G</text>
<text x="598.6" y="477.9" font-size="20" text-anchor="end" fill="#1b1d1c" letter-spacing="0.4">1/8</text>
<text x="572.5" y="502.5" font-size="19" text-anchor="middle" fill="#1b1d1c">(2)</text>
<line x1="577.75" y1="511.7" x2="590" y2="536" stroke="#1b1d1c" stroke-width="1"/>
<line x1="538" y1="560.4" x2="581.8" y2="560.4" stroke="#1b1d1c" stroke-width="1.1"/>
<line x1="538" y1="605.9" x2="581.8" y2="605.9" stroke="#1b1d1c" stroke-width="1.1"/>
<line x1="541.7" y1="514.1" x2="541.7" y2="623.8" stroke="#1b1d1c" stroke-width="1.2"/>
<polygon points="541.7,560.4 539.1,551.4 544.3,551.4" fill="#bbb" stroke="#1b1d1c" stroke-width="0.9"/>
<polygon points="541.7,605.9 539.1,614.9 544.3,614.9" fill="#bbb" stroke="#1b1d1c" stroke-width="0.9"/>
<text x="506.25" y="536.9" font-size="20" text-anchor="start" fill="#1b1d1c">DN</text>
<line x1="790.2" y1="560.4" x2="834.5" y2="560.4" stroke="#1b1d1c" stroke-width="1.1"/>
<line x1="790.2" y1="605.9" x2="834.5" y2="605.9" stroke="#1b1d1c" stroke-width="1.1"/>
<line x1="830" y1="514.1" x2="830" y2="623.8" stroke="#1b1d1c" stroke-width="1.2"/>
<polygon points="830,560.4 827.4,551.4 832.6,551.4" fill="#bbb" stroke="#1b1d1c" stroke-width="0.9"/>
<polygon points="830,605.9 827.4,614.9 832.6,614.9" fill="#bbb" stroke="#1b1d1c" stroke-width="0.9"/>
<text x="835.7" y="534.4" font-size="20" text-anchor="start" fill="#1b1d1c">DN</text>
<line x1="871.4" y1="583.2" x2="871.4" y2="648.2" stroke="#1b1d1c" stroke-width="1.2"/>
<polygon points="871.4,583.2 868.8,592.2 874,592.2" fill="#bbb" stroke="#1b1d1c" stroke-width="0.9"/>
<polygon points="871.4,648.2 868.8,639.2 874,639.2" fill="#bbb" stroke="#1b1d1c" stroke-width="0.9"/>
<text x="879.6" y="623" font-size="20" text-anchor="start" fill="#1b1d1c">h1</text>
<line x1="583.4" y1="628.7" x2="583.4" y2="697" stroke="#1b1d1c" stroke-width="1.4"/>
<line x1="788.6" y1="628.7" x2="788.6" y2="697" stroke="#1b1d1c" stroke-width="1.4"/>
<line x1="583.4" y1="692" x2="788.6" y2="692" stroke="#1b1d1c" stroke-width="1.2"/>
<polygon points="583.4,692 592.4,689.4 592.4,694.6" fill="#bbb" stroke="#1b1d1c" stroke-width="0.9"/>
<polygon points="788.6,692 779.6,689.4 779.6,694.6" fill="#bbb" stroke="#1b1d1c" stroke-width="0.9"/>
<text x="681" y="687.2" font-size="20" text-anchor="middle" fill="#1b1d1c">a</text>
<path d="M609.2,729.3 L763.6,729.3 L772.5,737.7 L772.5,762.1 L759.5,773.5 L759.5,845.8 L772.5,860.4 L772.5,884 L763.6,893.75 L609.2,893.75 L599.4,884 L599.4,860.4 L613.25,845.8 L613.25,773.5 L599.4,762.1 L599.4,737.7 Z" fill="#c6e9f8" stroke="#1b1d1c" stroke-width="2" />
<rect x="571" y="778.4" width="42.25" height="66.6" fill="#fdf9d4" stroke="#1b1d1c" stroke-width="2" rx="2"/>
<line x1="597" y1="790" x2="613" y2="784" stroke="#1b1d1c" stroke-width="1"/>
<line x1="597" y1="834" x2="613" y2="840" stroke="#1b1d1c" stroke-width="1"/>
<rect x="584.8" y="768.6" width="12.2" height="85.8" fill="#c6e9f8" stroke="#1b1d1c" stroke-width="1.8" rx="1.5"/>
<path d="M759.5,787.3 L775.75,783 L775.75,839 L759.5,835.25 Z" fill="#c6e9f8" stroke="#1b1d1c" stroke-width="1.5" />
<rect x="775.75" y="768.6" width="12.25" height="86.1" fill="#c6e9f8" stroke="#1b1d1c" stroke-width="1.8" rx="1.5"/>
<rect x="787.8" y="772.75" width="2.7" height="76.85" fill="#1b1d1c"/>
<ellipse cx="686" cy="811.4" rx="78.4" ry="75.5" fill="#fdf9d4" stroke="#1b1d1c" stroke-width="2"/>
<clipPath id="gc"><ellipse cx="686" cy="811.2" rx="54.5" ry="51.8"/></clipPath>
<g clip-path="url(#gc)">
<rect x="620" y="750" width="132" height="120" fill="#3e3c31"/>
<rect x="616.6" y="745.9" width="8" height="9.6" fill="#fdf9d4"/>
<rect x="616.6" y="758" width="8" height="9.6" fill="#fdf9d4"/>
<rect x="616.6" y="770.1" width="8" height="9.6" fill="#fdf9d4"/>
<rect x="616.6" y="782.2" width="8" height="9.6" fill="#fdf9d4"/>
<rect x="616.6" y="794.3" width="8" height="9.6" fill="#fdf9d4"/>
<rect x="616.6" y="806.4" width="8" height="9.6" fill="#fdf9d4"/>
<rect x="616.6" y="818.5" width="8" height="9.6" fill="#fdf9d4"/>
<rect x="616.6" y="830.6" width="8" height="9.6" fill="#fdf9d4"/>
<rect x="616.6" y="842.7" width="8" height="9.6" fill="#fdf9d4"/>
<rect x="616.6" y="854.8" width="8" height="9.6" fill="#fdf9d4"/>
<rect x="616.6" y="866.9" width="8" height="9.6" fill="#fdf9d4"/>
<rect x="627.5" y="745.9" width="8" height="9.6" fill="#fdf9d4"/>
<rect x="627.5" y="758" width="8" height="9.6" fill="#fdf9d4"/>
<rect x="627.5" y="770.1" width="8" height="9.6" fill="#fdf9d4"/>
<rect x="627.5" y="782.2" width="8" height="9.6" fill="#fdf9d4"/>
<rect x="627.5" y="794.3" width="8" height="9.6" fill="#fdf9d4"/>
<rect x="627.5" y="806.4" width="8" height="9.6" fill="#fdf9d4"/>
<rect x="627.5" y="818.5" width="8" height="9.6" fill="#fdf9d4"/>
<rect x="627.5" y="830.6" width="8" height="9.6" fill="#fdf9d4"/>
<rect x="627.5" y="842.7" width="8" height="9.6" fill="#fdf9d4"/>
<rect x="627.5" y="854.8" width="8" height="9.6" fill="#fdf9d4"/>
<rect x="627.5" y="866.9" width="8" height="9.6" fill="#fdf9d4"/>
<rect x="638.4" y="745.9" width="8" height="9.6" fill="#fdf9d4"/>
<rect x="638.4" y="758" width="8" height="9.6" fill="#fdf9d4"/>
<rect x="638.4" y="770.1" width="8" height="9.6" fill="#fdf9d4"/>
<rect x="638.4" y="782.2" width="8" height="9.6" fill="#fdf9d4"/>
<rect x="638.4" y="794.3" width="8" height="9.6" fill="#fdf9d4"/>
<rect x="638.4" y="806.4" width="8" height="9.6" fill="#fdf9d4"/>
<rect x="638.4" y="818.5" width="8" height="9.6" fill="#fdf9d4"/>
<rect x="638.4" y="830.6" width="8" height="9.6" fill="#fdf9d4"/>
<rect x="638.4" y="842.7" width="8" height="9.6" fill="#fdf9d4"/>
<rect x="638.4" y="854.8" width="8" height="9.6" fill="#fdf9d4"/>
<rect x="638.4" y="866.9" width="8" height="9.6" fill="#fdf9d4"/>
<rect x="649.3" y="745.9" width="8" height="9.6" fill="#fdf9d4"/>
<rect x="649.3" y="758" width="8" height="9.6" fill="#fdf9d4"/>
<rect x="649.3" y="770.1" width="8" height="9.6" fill="#fdf9d4"/>
<rect x="649.3" y="782.2" width="8" height="9.6" fill="#fdf9d4"/>
<rect x="649.3" y="794.3" width="8" height="9.6" fill="#fdf9d4"/>
<rect x="649.3" y="806.4" width="8" height="9.6" fill="#fdf9d4"/>
<rect x="649.3" y="818.5" width="8" height="9.6" fill="#fdf9d4"/>
<rect x="649.3" y="830.6" width="8" height="9.6" fill="#fdf9d4"/>
<rect x="649.3" y="842.7" width="8" height="9.6" fill="#fdf9d4"/>
<rect x="649.3" y="854.8" width="8" height="9.6" fill="#fdf9d4"/>
<rect x="649.3" y="866.9" width="8" height="9.6" fill="#fdf9d4"/>
<rect x="660.2" y="745.9" width="8" height="9.6" fill="#fdf9d4"/>
<rect x="660.2" y="758" width="8" height="9.6" fill="#fdf9d4"/>
<rect x="660.2" y="770.1" width="8" height="9.6" fill="#fdf9d4"/>
<rect x="660.2" y="782.2" width="8" height="9.6" fill="#fdf9d4"/>
<rect x="660.2" y="794.3" width="8" height="9.6" fill="#fdf9d4"/>
<rect x="660.2" y="806.4" width="8" height="9.6" fill="#fdf9d4"/>
<rect x="660.2" y="818.5" width="8" height="9.6" fill="#fdf9d4"/>
<rect x="660.2" y="830.6" width="8" height="9.6" fill="#fdf9d4"/>
<rect x="660.2" y="842.7" width="8" height="9.6" fill="#fdf9d4"/>
<rect x="660.2" y="854.8" width="8" height="9.6" fill="#fdf9d4"/>
<rect x="660.2" y="866.9" width="8" height="9.6" fill="#fdf9d4"/>
<rect x="671.1" y="745.9" width="8" height="9.6" fill="#fdf9d4"/>
<rect x="671.1" y="758" width="8" height="9.6" fill="#fdf9d4"/>
<rect x="671.1" y="770.1" width="8" height="9.6" fill="#fdf9d4"/>
<rect x="671.1" y="782.2" width="8" height="9.6" fill="#fdf9d4"/>
<rect x="671.1" y="794.3" width="8" height="9.6" fill="#fdf9d4"/>
<rect x="671.1" y="806.4" width="8" height="9.6" fill="#fdf9d4"/>
<rect x="671.1" y="818.5" width="8" height="9.6" fill="#fdf9d4"/>
<rect x="671.1" y="830.6" width="8" height="9.6" fill="#fdf9d4"/>
<rect x="671.1" y="842.7" width="8" height="9.6" fill="#fdf9d4"/>
<rect x="671.1" y="854.8" width="8" height="9.6" fill="#fdf9d4"/>
<rect x="671.1" y="866.9" width="8" height="9.6" fill="#fdf9d4"/>
<rect x="683.25" y="745.9" width="5.5" height="9.6" fill="#fdf9d4"/>
<rect x="683.25" y="758" width="5.5" height="9.6" fill="#fdf9d4"/>
<rect x="683.25" y="770.1" width="5.5" height="9.6" fill="#fdf9d4"/>
<rect x="683.25" y="782.2" width="5.5" height="9.6" fill="#fdf9d4"/>
<rect x="683.25" y="794.3" width="5.5" height="9.6" fill="#fdf9d4"/>
<rect x="683.25" y="806.4" width="5.5" height="9.6" fill="#fdf9d4"/>
<rect x="683.25" y="818.5" width="5.5" height="9.6" fill="#fdf9d4"/>
<rect x="683.25" y="830.6" width="5.5" height="9.6" fill="#fdf9d4"/>
<rect x="683.25" y="842.7" width="5.5" height="9.6" fill="#fdf9d4"/>
<rect x="683.25" y="854.8" width="5.5" height="9.6" fill="#fdf9d4"/>
<rect x="683.25" y="866.9" width="5.5" height="9.6" fill="#fdf9d4"/>
<rect x="692.9" y="745.9" width="8" height="9.6" fill="#fdf9d4"/>
<rect x="692.9" y="758" width="8" height="9.6" fill="#fdf9d4"/>
<rect x="692.9" y="770.1" width="8" height="9.6" fill="#fdf9d4"/>
<rect x="692.9" y="782.2" width="8" height="9.6" fill="#fdf9d4"/>
<rect x="692.9" y="794.3" width="8" height="9.6" fill="#fdf9d4"/>
<rect x="692.9" y="806.4" width="8" height="9.6" fill="#fdf9d4"/>
<rect x="692.9" y="818.5" width="8" height="9.6" fill="#fdf9d4"/>
<rect x="692.9" y="830.6" width="8" height="9.6" fill="#fdf9d4"/>
<rect x="692.9" y="842.7" width="8" height="9.6" fill="#fdf9d4"/>
<rect x="692.9" y="854.8" width="8" height="9.6" fill="#fdf9d4"/>
<rect x="692.9" y="866.9" width="8" height="9.6" fill="#fdf9d4"/>
<rect x="703.8" y="745.9" width="8" height="9.6" fill="#fdf9d4"/>
<rect x="703.8" y="758" width="8" height="9.6" fill="#fdf9d4"/>
<rect x="703.8" y="770.1" width="8" height="9.6" fill="#fdf9d4"/>
<rect x="703.8" y="782.2" width="8" height="9.6" fill="#fdf9d4"/>
<rect x="703.8" y="794.3" width="8" height="9.6" fill="#fdf9d4"/>
<rect x="703.8" y="806.4" width="8" height="9.6" fill="#fdf9d4"/>
<rect x="703.8" y="818.5" width="8" height="9.6" fill="#fdf9d4"/>
<rect x="703.8" y="830.6" width="8" height="9.6" fill="#fdf9d4"/>
<rect x="703.8" y="842.7" width="8" height="9.6" fill="#fdf9d4"/>
<rect x="703.8" y="854.8" width="8" height="9.6" fill="#fdf9d4"/>
<rect x="703.8" y="866.9" width="8" height="9.6" fill="#fdf9d4"/>
<rect x="714.7" y="745.9" width="8" height="9.6" fill="#fdf9d4"/>
<rect x="714.7" y="758" width="8" height="9.6" fill="#fdf9d4"/>
<rect x="714.7" y="770.1" width="8" height="9.6" fill="#fdf9d4"/>
<rect x="714.7" y="782.2" width="8" height="9.6" fill="#fdf9d4"/>
<rect x="714.7" y="794.3" width="8" height="9.6" fill="#fdf9d4"/>
<rect x="714.7" y="806.4" width="8" height="9.6" fill="#fdf9d4"/>
<rect x="714.7" y="818.5" width="8" height="9.6" fill="#fdf9d4"/>
<rect x="714.7" y="830.6" width="8" height="9.6" fill="#fdf9d4"/>
<rect x="714.7" y="842.7" width="8" height="9.6" fill="#fdf9d4"/>
<rect x="714.7" y="854.8" width="8" height="9.6" fill="#fdf9d4"/>
<rect x="714.7" y="866.9" width="8" height="9.6" fill="#fdf9d4"/>
<rect x="725.6" y="745.9" width="8" height="9.6" fill="#fdf9d4"/>
<rect x="725.6" y="758" width="8" height="9.6" fill="#fdf9d4"/>
<rect x="725.6" y="770.1" width="8" height="9.6" fill="#fdf9d4"/>
<rect x="725.6" y="782.2" width="8" height="9.6" fill="#fdf9d4"/>
<rect x="725.6" y="794.3" width="8" height="9.6" fill="#fdf9d4"/>
<rect x="725.6" y="806.4" width="8" height="9.6" fill="#fdf9d4"/>
<rect x="725.6" y="818.5" width="8" height="9.6" fill="#fdf9d4"/>
<rect x="725.6" y="830.6" width="8" height="9.6" fill="#fdf9d4"/>
<rect x="725.6" y="842.7" width="8" height="9.6" fill="#fdf9d4"/>
<rect x="725.6" y="854.8" width="8" height="9.6" fill="#fdf9d4"/>
<rect x="725.6" y="866.9" width="8" height="9.6" fill="#fdf9d4"/>
<rect x="736.5" y="745.9" width="8" height="9.6" fill="#fdf9d4"/>
<rect x="736.5" y="758" width="8" height="9.6" fill="#fdf9d4"/>
<rect x="736.5" y="770.1" width="8" height="9.6" fill="#fdf9d4"/>
<rect x="736.5" y="782.2" width="8" height="9.6" fill="#fdf9d4"/>
<rect x="736.5" y="794.3" width="8" height="9.6" fill="#fdf9d4"/>
<rect x="736.5" y="806.4" width="8" height="9.6" fill="#fdf9d4"/>
<rect x="736.5" y="818.5" width="8" height="9.6" fill="#fdf9d4"/>
<rect x="736.5" y="830.6" width="8" height="9.6" fill="#fdf9d4"/>
<rect x="736.5" y="842.7" width="8" height="9.6" fill="#fdf9d4"/>
<rect x="736.5" y="854.8" width="8" height="9.6" fill="#fdf9d4"/>
<rect x="736.5" y="866.9" width="8" height="9.6" fill="#fdf9d4"/>
<rect x="747.4" y="745.9" width="8" height="9.6" fill="#fdf9d4"/>
<rect x="747.4" y="758" width="8" height="9.6" fill="#fdf9d4"/>
<rect x="747.4" y="770.1" width="8" height="9.6" fill="#fdf9d4"/>
<rect x="747.4" y="782.2" width="8" height="9.6" fill="#fdf9d4"/>
<rect x="747.4" y="794.3" width="8" height="9.6" fill="#fdf9d4"/>
<rect x="747.4" y="806.4" width="8" height="9.6" fill="#fdf9d4"/>
<rect x="747.4" y="818.5" width="8" height="9.6" fill="#fdf9d4"/>
<rect x="747.4" y="830.6" width="8" height="9.6" fill="#fdf9d4"/>
<rect x="747.4" y="842.7" width="8" height="9.6" fill="#fdf9d4"/>
<rect x="747.4" y="854.8" width="8" height="9.6" fill="#fdf9d4"/>
<rect x="747.4" y="866.9" width="8" height="9.6" fill="#fdf9d4"/>
</g>
<ellipse cx="686" cy="811.2" rx="57" ry="54.25" fill="none" stroke="#1b1d1c" stroke-width="1.6"/>
<circle cx="686" cy="811.2" r="3.8" fill="none" stroke="#1b1d1c" stroke-width="1.1"/>
<circle cx="613" cy="741.8" r="4" fill="none" stroke="#1b1d1c" stroke-width="1.2"/>
<line x1="602" y1="741.8" x2="624" y2="741.8" stroke="#1b1d1c" stroke-width="1"/>
<line x1="613" y1="730.8" x2="613" y2="752.8" stroke="#1b1d1c" stroke-width="1"/>
<circle cx="759.2" cy="741.8" r="4" fill="none" stroke="#1b1d1c" stroke-width="1.2"/>
<line x1="748.2" y1="741.8" x2="770.2" y2="741.8" stroke="#1b1d1c" stroke-width="1"/>
<line x1="759.2" y1="730.8" x2="759.2" y2="752.8" stroke="#1b1d1c" stroke-width="1"/>
<circle cx="613" cy="880.75" r="4" fill="none" stroke="#1b1d1c" stroke-width="1.2"/>
<line x1="602" y1="880.75" x2="624" y2="880.75" stroke="#1b1d1c" stroke-width="1"/>
<line x1="613" y1="869.75" x2="613" y2="891.75" stroke="#1b1d1c" stroke-width="1"/>
<circle cx="759.2" cy="880.75" r="4" fill="none" stroke="#1b1d1c" stroke-width="1.2"/>
<line x1="748.2" y1="880.75" x2="770.2" y2="880.75" stroke="#1b1d1c" stroke-width="1"/>
<line x1="759.2" y1="869.75" x2="759.2" y2="891.75" stroke="#1b1d1c" stroke-width="1"/>
<path d="M710,752 Q690,742 664,750" fill="none" stroke="#1b1d1c" stroke-width="3.5" />
<polygon points="657,751.5 668,744.5 667,754.5" fill="#1b1d1c"/>
<line x1="553" y1="811.4" x2="797.7" y2="811.4" stroke="#1b1d1c" stroke-width="1" stroke-dasharray="12 4 3 4"/>
<line x1="686" y1="722.3" x2="686" y2="905" stroke="#1b1d1c" stroke-width="1" stroke-dasharray="12 4 3 4"/>
<line x1="779" y1="729" x2="877" y2="729" stroke="#1b1d1c" stroke-width="1.3"/>
<line x1="779" y1="893.8" x2="877" y2="893.8" stroke="#1b1d1c" stroke-width="1.3"/>
<line x1="777" y1="742" x2="838" y2="742" stroke="#1b1d1c" stroke-width="1.3" stroke-dasharray="10 5"/>
<line x1="777" y1="880.8" x2="838" y2="880.8" stroke="#1b1d1c" stroke-width="1.3" stroke-dasharray="10 5"/>
<line x1="830.3" y1="742" x2="830.3" y2="880.8" stroke="#1b1d1c" stroke-width="1.2"/>
<polygon points="830.3,742 827.7,751 832.9,751" fill="#bbb" stroke="#1b1d1c" stroke-width="0.9"/>
<polygon points="830.3,880.8 827.7,871.8 832.9,871.8" fill="#bbb" stroke="#1b1d1c" stroke-width="0.9"/>
<line x1="871.8" y1="729" x2="871.8" y2="893.8" stroke="#1b1d1c" stroke-width="1.2"/>
<polygon points="871.8,729 869.2,738 874.4,738" fill="#bbb" stroke="#1b1d1c" stroke-width="0.9"/>
<polygon points="871.8,893.8 869.2,884.8 874.4,884.8" fill="#bbb" stroke="#1b1d1c" stroke-width="0.9"/>
<text x="826" y="810.25" font-size="21" text-anchor="middle" fill="#1b1d1c" transform="rotate(-90 826 810.25)">220</text>
<text x="867.6" y="810.25" font-size="21" text-anchor="middle" fill="#1b1d1c" transform="rotate(-90 867.6 810.25)">260</text>
<line x1="599.9" y1="900" x2="599.9" y2="1017" stroke="#1b1d1c" stroke-width="1.3"/>
<line x1="773.6" y1="900" x2="773.6" y2="1017" stroke="#1b1d1c" stroke-width="1.3"/>
<line x1="613" y1="900" x2="613" y2="977" stroke="#1b1d1c" stroke-width="1.2" stroke-dasharray="10 5"/>
<line x1="759.4" y1="900" x2="759.4" y2="977" stroke="#1b1d1c" stroke-width="1.2" stroke-dasharray="10 5"/>
<line x1="754.9" y1="897.4" x2="754.9" y2="938" stroke="#1b1d1c" stroke-width="1.6"/>
<line x1="764" y1="897.4" x2="764" y2="938" stroke="#1b1d1c" stroke-width="1.6"/>
<line x1="707.9" y1="933.4" x2="782.8" y2="933.4" stroke="#1b1d1c" stroke-width="1.1"/>
<polygon points="754.9,933.4 745.9,930.8 745.9,936" fill="#bbb" stroke="#1b1d1c" stroke-width="0.9"/>
<polygon points="764,933.4 773,930.8 773,936" fill="#bbb" stroke="#1b1d1c" stroke-width="0.9"/>
<text x="721.6" y="929" font-size="20" text-anchor="start" fill="#1b1d1c">14</text>
<line x1="613" y1="972.6" x2="759.4" y2="972.6" stroke="#1b1d1c" stroke-width="1.2"/>
<polygon points="613,972.6 622,970 622,975.2" fill="#bbb" stroke="#1b1d1c" stroke-width="0.9"/>
<polygon points="759.4,972.6 750.4,970 750.4,975.2" fill="#bbb" stroke="#1b1d1c" stroke-width="0.9"/>
<text x="688.25" y="967.5" font-size="20.5" text-anchor="middle" fill="#1b1d1c">220</text>
<line x1="599.9" y1="1012.2" x2="773.6" y2="1012.2" stroke="#1b1d1c" stroke-width="1.2"/>
<polygon points="599.9,1012.2 608.9,1009.6 608.9,1014.8" fill="#bbb" stroke="#1b1d1c" stroke-width="0.9"/>
<polygon points="773.6,1012.2 764.6,1009.6 764.6,1014.8" fill="#bbb" stroke="#1b1d1c" stroke-width="0.9"/>
<text x="688.25" y="1007.4" font-size="20.5" text-anchor="middle" fill="#1b1d1c">260</text>
<path d="M944.4,740 Q944.4,738.2 946.5,738.2 L955.6,738.2 Q957.7,738.2 957.7,740.5 L957.7,843 Q957.7,845.4 955.6,845.4 L946.5,845.4 Q944.4,845.4 944.4,843 L944.4,812 L946.8,809 L946.8,772 L944.4,769.9 Z" fill="#ffffff" stroke="#1b1d1c" stroke-width="1.6" />
<rect x="957.7" y="747" width="5.3" height="89.5" fill="#ffffff" stroke="#1b1d1c" stroke-width="1.4"/>
<rect x="963" y="749.6" width="155.25" height="85.3" fill="#ffffff" stroke="#1b1d1c" stroke-width="1.6"/>
<line x1="963" y1="755.5" x2="1118.25" y2="755.5" stroke="#1b1d1c" stroke-width="1.5"/>
<line x1="963" y1="761.4" x2="1118.25" y2="761.4" stroke="#1b1d1c" stroke-width="1.5"/>
<line x1="963" y1="823.5" x2="1118.25" y2="823.5" stroke="#1b1d1c" stroke-width="1.5"/>
<line x1="963" y1="829" x2="1118.25" y2="829" stroke="#1b1d1c" stroke-width="1.5"/>
<line x1="1005.3" y1="761.4" x2="1005.3" y2="823.5" stroke="#1b1d1c" stroke-width="1.2"/>
<line x1="963.9" y1="761.4" x2="963.9" y2="823.5" stroke="#1b1d1c" stroke-width="1.2"/>
<circle cx="989" cy="791.8" r="28" fill="#ffffff" stroke="#1b1d1c" stroke-width="1.3"/>
<circle cx="989" cy="791.8" r="16.7" fill="#ffffff" stroke="#1b1d1c" stroke-width="1.3"/>
<circle cx="989" cy="791.8" r="12" fill="#ffffff" stroke="#1b1d1c" stroke-width="1.3"/>
<circle cx="973.6" cy="777.2" r="3.5" fill="none" stroke="#1b1d1c" stroke-width="1"/>
<line x1="970.6" y1="774.2" x2="976.6" y2="780.2" stroke="#1b1d1c" stroke-width="0.8"/>
<line x1="970.6" y1="780.2" x2="976.6" y2="774.2" stroke="#1b1d1c" stroke-width="0.8"/>
<circle cx="1004.5" cy="777.2" r="3.5" fill="none" stroke="#1b1d1c" stroke-width="1"/>
<line x1="1001.5" y1="774.2" x2="1007.5" y2="780.2" stroke="#1b1d1c" stroke-width="0.8"/>
<line x1="1001.5" y1="780.2" x2="1007.5" y2="774.2" stroke="#1b1d1c" stroke-width="0.8"/>
<circle cx="973.6" cy="806.4" r="3.5" fill="none" stroke="#1b1d1c" stroke-width="1"/>
<line x1="970.6" y1="803.4" x2="976.6" y2="809.4" stroke="#1b1d1c" stroke-width="0.8"/>
<line x1="970.6" y1="809.4" x2="976.6" y2="803.4" stroke="#1b1d1c" stroke-width="0.8"/>
<circle cx="1004.5" cy="806.4" r="3.5" fill="none" stroke="#1b1d1c" stroke-width="1"/>
<line x1="1001.5" y1="803.4" x2="1007.5" y2="809.4" stroke="#1b1d1c" stroke-width="0.8"/>
<line x1="1001.5" y1="809.4" x2="1007.5" y2="803.4" stroke="#1b1d1c" stroke-width="0.8"/>
<line x1="989" y1="760" x2="989" y2="824" stroke="#1b1d1c" stroke-width="1"/>
<rect x="975.25" y="745.5" width="11.35" height="4.1" fill="#ffffff" stroke="#1b1d1c" stroke-width="1.3"/>
<rect x="975.25" y="834.9" width="11.35" height="3.6" fill="#ffffff" stroke="#1b1d1c" stroke-width="1.3"/>
<line x1="994" y1="730" x2="983.4" y2="745.5" stroke="#1b1d1c" stroke-width="1"/>
<line x1="985" y1="838.5" x2="1001.25" y2="852" stroke="#1b1d1c" stroke-width="1"/>
<rect x="1118.25" y="749.6" width="13" height="85.3" fill="#ffffff" stroke="#1b1d1c" stroke-width="1.6"/>
<rect x="1120.5" y="773" width="8.5" height="36" fill="#ffffff" stroke="#1b1d1c" stroke-width="1.1"/>
<circle cx="1126" cy="782" r="4.5" fill="none" stroke="#1b1d1c" stroke-width="1.4"/>
<circle cx="1126" cy="801" r="4.5" fill="none" stroke="#1b1d1c" stroke-width="1.4"/>
<rect x="1134.5" y="749.8" width="39.3" height="83" fill="#2a2c2b"/>
<rect x="1137.45" y="752.95" width="2.7" height="2.7" fill="#fff"/>
<rect x="1137.45" y="758.25" width="2.7" height="2.7" fill="#fff"/>
<rect x="1137.45" y="763.55" width="2.7" height="2.7" fill="#fff"/>
<rect x="1137.45" y="768.85" width="2.7" height="2.7" fill="#fff"/>
<rect x="1137.45" y="774.15" width="2.7" height="2.7" fill="#fff"/>
<rect x="1137.45" y="779.45" width="2.7" height="2.7" fill="#fff"/>
<rect x="1137.45" y="784.75" width="2.7" height="2.7" fill="#fff"/>
<rect x="1137.45" y="790.05" width="2.7" height="2.7" fill="#fff"/>
<rect x="1137.45" y="795.35" width="2.7" height="2.7" fill="#fff"/>
<rect x="1137.45" y="800.65" width="2.7" height="2.7" fill="#fff"/>
<rect x="1137.45" y="805.95" width="2.7" height="2.7" fill="#fff"/>
<rect x="1137.45" y="811.25" width="2.7" height="2.7" fill="#fff"/>
<rect x="1137.45" y="816.55" width="2.7" height="2.7" fill="#fff"/>
<rect x="1137.45" y="821.85" width="2.7" height="2.7" fill="#fff"/>
<rect x="1137.45" y="827.15" width="2.7" height="2.7" fill="#fff"/>
<rect x="1142.45" y="752.95" width="2.7" height="2.7" fill="#fff"/>
<rect x="1142.45" y="758.25" width="2.7" height="2.7" fill="#fff"/>
<rect x="1142.45" y="763.55" width="2.7" height="2.7" fill="#fff"/>
<rect x="1142.45" y="768.85" width="2.7" height="2.7" fill="#fff"/>
<rect x="1142.45" y="774.15" width="2.7" height="2.7" fill="#fff"/>
<rect x="1142.45" y="779.45" width="2.7" height="2.7" fill="#fff"/>
<rect x="1142.45" y="784.75" width="2.7" height="2.7" fill="#fff"/>
<rect x="1142.45" y="790.05" width="2.7" height="2.7" fill="#fff"/>
<rect x="1142.45" y="795.35" width="2.7" height="2.7" fill="#fff"/>
<rect x="1142.45" y="800.65" width="2.7" height="2.7" fill="#fff"/>
<rect x="1142.45" y="805.95" width="2.7" height="2.7" fill="#fff"/>
<rect x="1142.45" y="811.25" width="2.7" height="2.7" fill="#fff"/>
<rect x="1142.45" y="816.55" width="2.7" height="2.7" fill="#fff"/>
<rect x="1142.45" y="821.85" width="2.7" height="2.7" fill="#fff"/>
<rect x="1142.45" y="827.15" width="2.7" height="2.7" fill="#fff"/>
<rect x="1147.45" y="752.95" width="2.7" height="2.7" fill="#fff"/>
<rect x="1147.45" y="758.25" width="2.7" height="2.7" fill="#fff"/>
<rect x="1147.45" y="763.55" width="2.7" height="2.7" fill="#fff"/>
<rect x="1147.45" y="768.85" width="2.7" height="2.7" fill="#fff"/>
<rect x="1147.45" y="774.15" width="2.7" height="2.7" fill="#fff"/>
<rect x="1147.45" y="779.45" width="2.7" height="2.7" fill="#fff"/>
<rect x="1147.45" y="784.75" width="2.7" height="2.7" fill="#fff"/>
<rect x="1147.45" y="790.05" width="2.7" height="2.7" fill="#fff"/>
<rect x="1147.45" y="795.35" width="2.7" height="2.7" fill="#fff"/>
<rect x="1147.45" y="800.65" width="2.7" height="2.7" fill="#fff"/>
<rect x="1147.45" y="805.95" width="2.7" height="2.7" fill="#fff"/>
<rect x="1147.45" y="811.25" width="2.7" height="2.7" fill="#fff"/>
<rect x="1147.45" y="816.55" width="2.7" height="2.7" fill="#fff"/>
<rect x="1147.45" y="821.85" width="2.7" height="2.7" fill="#fff"/>
<rect x="1147.45" y="827.15" width="2.7" height="2.7" fill="#fff"/>
<rect x="1152.45" y="752.95" width="2.7" height="2.7" fill="#fff"/>
<rect x="1152.45" y="758.25" width="2.7" height="2.7" fill="#fff"/>
<rect x="1152.45" y="763.55" width="2.7" height="2.7" fill="#fff"/>
<rect x="1152.45" y="768.85" width="2.7" height="2.7" fill="#fff"/>
<rect x="1152.45" y="774.15" width="2.7" height="2.7" fill="#fff"/>
<rect x="1152.45" y="779.45" width="2.7" height="2.7" fill="#fff"/>
<rect x="1152.45" y="784.75" width="2.7" height="2.7" fill="#fff"/>
<rect x="1152.45" y="790.05" width="2.7" height="2.7" fill="#fff"/>
<rect x="1152.45" y="795.35" width="2.7" height="2.7" fill="#fff"/>
<rect x="1152.45" y="800.65" width="2.7" height="2.7" fill="#fff"/>
<rect x="1152.45" y="805.95" width="2.7" height="2.7" fill="#fff"/>
<rect x="1152.45" y="811.25" width="2.7" height="2.7" fill="#fff"/>
<rect x="1152.45" y="816.55" width="2.7" height="2.7" fill="#fff"/>
<rect x="1152.45" y="821.85" width="2.7" height="2.7" fill="#fff"/>
<rect x="1152.45" y="827.15" width="2.7" height="2.7" fill="#fff"/>
<rect x="1157.45" y="752.95" width="2.7" height="2.7" fill="#fff"/>
<rect x="1157.45" y="758.25" width="2.7" height="2.7" fill="#fff"/>
<rect x="1157.45" y="763.55" width="2.7" height="2.7" fill="#fff"/>
<rect x="1157.45" y="768.85" width="2.7" height="2.7" fill="#fff"/>
<rect x="1157.45" y="774.15" width="2.7" height="2.7" fill="#fff"/>
<rect x="1157.45" y="779.45" width="2.7" height="2.7" fill="#fff"/>
<rect x="1157.45" y="784.75" width="2.7" height="2.7" fill="#fff"/>
<rect x="1157.45" y="790.05" width="2.7" height="2.7" fill="#fff"/>
<rect x="1157.45" y="795.35" width="2.7" height="2.7" fill="#fff"/>
<rect x="1157.45" y="800.65" width="2.7" height="2.7" fill="#fff"/>
<rect x="1157.45" y="805.95" width="2.7" height="2.7" fill="#fff"/>
<rect x="1157.45" y="811.25" width="2.7" height="2.7" fill="#fff"/>
<rect x="1157.45" y="816.55" width="2.7" height="2.7" fill="#fff"/>
<rect x="1157.45" y="821.85" width="2.7" height="2.7" fill="#fff"/>
<rect x="1157.45" y="827.15" width="2.7" height="2.7" fill="#fff"/>
<rect x="1162.45" y="752.95" width="2.7" height="2.7" fill="#fff"/>
<rect x="1162.45" y="758.25" width="2.7" height="2.7" fill="#fff"/>
<rect x="1162.45" y="763.55" width="2.7" height="2.7" fill="#fff"/>
<rect x="1162.45" y="768.85" width="2.7" height="2.7" fill="#fff"/>
<rect x="1162.45" y="774.15" width="2.7" height="2.7" fill="#fff"/>
<rect x="1162.45" y="779.45" width="2.7" height="2.7" fill="#fff"/>
<rect x="1162.45" y="784.75" width="2.7" height="2.7" fill="#fff"/>
<rect x="1162.45" y="790.05" width="2.7" height="2.7" fill="#fff"/>
<rect x="1162.45" y="795.35" width="2.7" height="2.7" fill="#fff"/>
<rect x="1162.45" y="800.65" width="2.7" height="2.7" fill="#fff"/>
<rect x="1162.45" y="805.95" width="2.7" height="2.7" fill="#fff"/>
<rect x="1162.45" y="811.25" width="2.7" height="2.7" fill="#fff"/>
<rect x="1162.45" y="816.55" width="2.7" height="2.7" fill="#fff"/>
<rect x="1162.45" y="821.85" width="2.7" height="2.7" fill="#fff"/>
<rect x="1162.45" y="827.15" width="2.7" height="2.7" fill="#fff"/>
<rect x="1167.45" y="752.95" width="2.7" height="2.7" fill="#fff"/>
<rect x="1167.45" y="758.25" width="2.7" height="2.7" fill="#fff"/>
<rect x="1167.45" y="763.55" width="2.7" height="2.7" fill="#fff"/>
<rect x="1167.45" y="768.85" width="2.7" height="2.7" fill="#fff"/>
<rect x="1167.45" y="774.15" width="2.7" height="2.7" fill="#fff"/>
<rect x="1167.45" y="779.45" width="2.7" height="2.7" fill="#fff"/>
<rect x="1167.45" y="784.75" width="2.7" height="2.7" fill="#fff"/>
<rect x="1167.45" y="790.05" width="2.7" height="2.7" fill="#fff"/>
<rect x="1167.45" y="795.35" width="2.7" height="2.7" fill="#fff"/>
<rect x="1167.45" y="800.65" width="2.7" height="2.7" fill="#fff"/>
<rect x="1167.45" y="805.95" width="2.7" height="2.7" fill="#fff"/>
<rect x="1167.45" y="811.25" width="2.7" height="2.7" fill="#fff"/>
<rect x="1167.45" y="816.55" width="2.7" height="2.7" fill="#fff"/>
<rect x="1167.45" y="821.85" width="2.7" height="2.7" fill="#fff"/>
<rect x="1167.45" y="827.15" width="2.7" height="2.7" fill="#fff"/>
<rect x="1174" y="749.9" width="12.25" height="84" fill="#ffffff" stroke="#1b1d1c" stroke-width="1.4"/>
<rect x="1186.25" y="742" width="6.15" height="98.9" fill="#ffffff" stroke="#1b1d1c" stroke-width="1.5"/>
<rect x="1194.1" y="742" width="7.9" height="98.9" fill="#ffffff" stroke="#1b1d1c" stroke-width="1.5"/>
<rect x="1202" y="752.5" width="20.1" height="77.9" fill="#ffffff" stroke="#1b1d1c" stroke-width="1.5"/>
<rect x="1222.1" y="742" width="81.4" height="98.9" fill="#ffffff" stroke="#1b1d1c" stroke-width="1.8"/>
<line x1="1222.1" y1="744.75" x2="1303.5" y2="744.75" stroke="#1b1d1c" stroke-width="1.2"/>
<line x1="1222.1" y1="747.75" x2="1303.5" y2="747.75" stroke="#1b1d1c" stroke-width="1.2"/>
<line x1="1222.1" y1="762.75" x2="1303.5" y2="762.75" stroke="#1b1d1c" stroke-width="1.2"/>
<line x1="1222.1" y1="823.5" x2="1303.5" y2="823.5" stroke="#1b1d1c" stroke-width="1.2"/>
<line x1="1222.1" y1="834" x2="1303.5" y2="834" stroke="#1b1d1c" stroke-width="1.2"/>
<line x1="1222.1" y1="838.5" x2="1303.5" y2="838.5" stroke="#1b1d1c" stroke-width="1.2"/>
<line x1="1224" y1="768.75" x2="1303.5" y2="768.75" stroke="#1b1d1c" stroke-width="2.8"/>
<line x1="1224" y1="775.5" x2="1303.5" y2="775.5" stroke="#1b1d1c" stroke-width="2.8"/>
<line x1="1224" y1="781.5" x2="1303.5" y2="781.5" stroke="#1b1d1c" stroke-width="2.8"/>
<line x1="1224" y1="787.5" x2="1303.5" y2="787.5" stroke="#1b1d1c" stroke-width="2.8"/>
<line x1="1224" y1="802.5" x2="1303.5" y2="802.5" stroke="#1b1d1c" stroke-width="2.8"/>
<line x1="1224" y1="808.5" x2="1303.5" y2="808.5" stroke="#1b1d1c" stroke-width="2.8"/>
<line x1="1224" y1="814.5" x2="1303.5" y2="814.5" stroke="#1b1d1c" stroke-width="2.8"/>
<line x1="1224" y1="820.5" x2="1303.5" y2="820.5" stroke="#1b1d1c" stroke-width="2.8"/>
<line x1="1224" y1="795.75" x2="1303.5" y2="795.75" stroke="#777" stroke-width="3"/>
<path d="M1303.5,742 L1336,742 Q1344.6,742 1344.6,752 L1344.6,831 Q1344.6,840.9 1336,840.9 L1303.5,840.9" fill="#ffffff" stroke="#1b1d1c" stroke-width="1.8" />
<rect x="1222.1" y="720.1" width="52.5" height="21.9" fill="#ffffff" stroke="#1b1d1c" stroke-width="1.8"/>
<line x1="1265" y1="730.1" x2="1301.75" y2="721.9" stroke="#1b1d1c" stroke-width="1"/>
<path d="M943.4,812 L943.4,862.5 Q943.4,866.5 947.5,866.5 L966.2,866.5" fill="none" stroke="#1b1d1c" stroke-width="2.6" />
<path d="M1132.75,812 L1132.75,862.5 Q1132.75,866.5 1137,866.5 L1155.5,866.5" fill="none" stroke="#1b1d1c" stroke-width="2.6" />
<line x1="970.25" y1="866.5" x2="1130.3" y2="866.5" stroke="#1b1d1c" stroke-width="2.4"/>
<line x1="1160.4" y1="866.5" x2="1429.5" y2="866.5" stroke="#1b1d1c" stroke-width="2.4"/>
<rect x="935.4" y="827.6" width="7.35" height="12.15" fill="#ffffff" stroke="#1b1d1c" stroke-width="1.2"/>
<text x="963" y="726.8" font-size="18.5" text-anchor="start" fill="#1b1d1c" letter-spacing="0.9">G 3/8 (1) (2)</text>
<text x="1006" y="859.25" font-size="18.5" text-anchor="start" fill="#1b1d1c" letter-spacing="0.9">G 3/8 (3)</text>
<text x="1303.5" y="726" font-size="19" text-anchor="start" fill="#1b1d1c">(4)</text>
<text x="1223" y="854.9" font-size="12" text-anchor="start" fill="#333">4.93.210/3</text>
<line x1="1372.6" y1="791.9" x2="1372.6" y2="866.25" stroke="#1b1d1c" stroke-width="1.2"/>
<polygon points="1372.6,791.9 1370,800.9 1375.2,800.9" fill="#bbb" stroke="#1b1d1c" stroke-width="0.9"/>
<polygon points="1372.6,866.25 1370,857.25 1375.2,857.25" fill="#bbb" stroke="#1b1d1c" stroke-width="0.9"/>
<text x="1368.4" y="828.2" font-size="21" text-anchor="middle" fill="#1b1d1c" transform="rotate(-90 1368.4 828.2)">200</text>
<text x="1384" y="848.75" font-size="20" text-anchor="start" fill="#1b1d1c">Ø14</text>
<line x1="942.6" y1="873.8" x2="942.6" y2="995.7" stroke="#1b1d1c" stroke-width="1.2"/>
<line x1="957.6" y1="860" x2="957.6" y2="916.9" stroke="#1b1d1c" stroke-width="1.1" stroke-dasharray="8 4"/>
<line x1="965.4" y1="877" x2="965.4" y2="955.9" stroke="#1b1d1c" stroke-width="1.2"/>
<line x1="1155.5" y1="877" x2="1155.5" y2="995.7" stroke="#1b1d1c" stroke-width="1.2"/>
<line x1="938.6" y1="912" x2="1031.2" y2="912" stroke="#1b1d1c" stroke-width="1.1"/>
<polygon points="957.6,912 948.6,909.4 948.6,914.6" fill="#bbb" stroke="#1b1d1c" stroke-width="0.9"/>
<polygon points="965.4,912 974.4,909.4 974.4,914.6" fill="#bbb" stroke="#1b1d1c" stroke-width="0.9"/>
<text x="997.9" y="907.1" font-size="20" text-anchor="start" fill="#1b1d1c">15</text>
<line x1="923.1" y1="951.5" x2="1031.2" y2="951.5" stroke="#1b1d1c" stroke-width="1.1"/>
<polygon points="942.6,951.5 933.6,948.9 933.6,954.1" fill="#bbb" stroke="#1b1d1c" stroke-width="0.9"/>
<polygon points="965.4,951.5 974.4,948.9 974.4,954.1" fill="#bbb" stroke="#1b1d1c" stroke-width="0.9"/>
<text x="997" y="946.1" font-size="20" text-anchor="start" fill="#1b1d1c">43</text>
<line x1="942.6" y1="991.3" x2="1155.5" y2="991.3" stroke="#1b1d1c" stroke-width="1.2"/>
<polygon points="942.6,991.3 951.6,988.7 951.6,993.9" fill="#bbb" stroke="#1b1d1c" stroke-width="0.9"/>
<polygon points="1155.5,991.3 1146.5,988.7 1146.5,993.9" fill="#bbb" stroke="#1b1d1c" stroke-width="0.9"/>
<text x="1038.5" y="986.75" font-size="20" text-anchor="start" fill="#1b1d1c">m4</text>
<line x1="1147.5" y1="855" x2="1147.5" y2="880" stroke="#1b1d1c" stroke-width="1"/>
<rect x="1469.4" y="720" width="45" height="17.5" fill="#ffffff" stroke="#1b1d1c" stroke-width="1.8"/>
<path d="M1445,816.25 L1445,766.9 L1435.6,760.6 L1435.6,745 Q1435.6,737.5 1442.5,737.5 L1541.9,737.5 Q1548.75,737.5 1548.75,745 L1548.75,760.6 L1538.75,766.9 L1538.75,816.25" fill="#ffffff" stroke="#1b1d1c" stroke-width="1.8" />
<path d="M1465,738 L1465,742.5 L1447,742.5 Q1440.5,742.5 1440.5,749 L1440.5,759 L1446,764" fill="none" stroke="#1b1d1c" stroke-width="1.3" />
<path d="M1519,738 L1519,742.5 L1537,742.5 Q1543.5,742.5 1543.5,749 L1543.5,759 L1538,764" fill="none" stroke="#1b1d1c" stroke-width="1.3" />
<path d="M1443.75,816.9 L1539.4,816.9 L1548.75,823.75 L1548.75,866.25 L1435.6,866.25 L1435.6,823.75 Z" fill="#a8dbf3" stroke="#1b1d1c" stroke-width="2" />
<line x1="1435.6" y1="864" x2="1548.75" y2="864" stroke="#1b1d1c" stroke-width="1"/>
<circle cx="1491.9" cy="791.9" r="42.5" fill="#ffffff" stroke="#1b1d1c" stroke-width="1.5"/>
<rect x="1425.6" y="764.4" width="7.5" height="55.6" fill="#ffffff" stroke="#1b1d1c" stroke-width="1.5" rx="1"/>
<rect x="1424" y="772" width="2" height="40" fill="#1b1d1c"/>
<rect x="1550" y="764.4" width="7.5" height="55.6" fill="#ffffff" stroke="#1b1d1c" stroke-width="1.5" rx="1"/>
<rect x="1557" y="772" width="2" height="40" fill="#1b1d1c"/>
<path d="M1433.1,775 L1445,773 L1445,810 L1433.1,808.75" fill="#ffffff" stroke="#1b1d1c" stroke-width="1.2" />
<path d="M1550,775 L1538.75,773 L1538.75,810 L1550,808.75" fill="#ffffff" stroke="#1b1d1c" stroke-width="1.2" />
<circle cx="1444.4" cy="836.9" r="5.5" fill="none" stroke="#1b1d1c" stroke-width="2.4"/>
<line x1="1438.4" y1="836.9" x2="1450.4" y2="836.9" stroke="#1b1d1c" stroke-width="1"/>
<line x1="1444.4" y1="830.9" x2="1444.4" y2="842.9" stroke="#1b1d1c" stroke-width="1"/>
<circle cx="1539.4" cy="836.9" r="5.5" fill="none" stroke="#1b1d1c" stroke-width="2.4"/>
<line x1="1533.4" y1="836.9" x2="1545.4" y2="836.9" stroke="#1b1d1c" stroke-width="1"/>
<line x1="1539.4" y1="830.9" x2="1539.4" y2="842.9" stroke="#1b1d1c" stroke-width="1"/>
<circle cx="1456.9" cy="758" r="3" fill="none" stroke="#1b1d1c" stroke-width="1"/>
<line x1="1452.9" y1="754" x2="1460.9" y2="762" stroke="#1b1d1c" stroke-width="0.8"/>
<line x1="1452.9" y1="762" x2="1460.9" y2="754" stroke="#1b1d1c" stroke-width="0.8"/>
<circle cx="1527.5" cy="758" r="3" fill="none" stroke="#1b1d1c" stroke-width="1"/>
<line x1="1523.5" y1="754" x2="1531.5" y2="762" stroke="#1b1d1c" stroke-width="0.8"/>
<line x1="1523.5" y1="762" x2="1531.5" y2="754" stroke="#1b1d1c" stroke-width="0.8"/>
<circle cx="1456.9" cy="825" r="3" fill="none" stroke="#1b1d1c" stroke-width="1"/>
<line x1="1452.9" y1="821" x2="1460.9" y2="829" stroke="#1b1d1c" stroke-width="0.8"/>
<line x1="1452.9" y1="829" x2="1460.9" y2="821" stroke="#1b1d1c" stroke-width="0.8"/>
<circle cx="1527.5" cy="825" r="3" fill="none" stroke="#1b1d1c" stroke-width="1"/>
<line x1="1523.5" y1="821" x2="1531.5" y2="829" stroke="#1b1d1c" stroke-width="0.8"/>
<line x1="1523.5" y1="829" x2="1531.5" y2="821" stroke="#1b1d1c" stroke-width="0.8"/>
<circle cx="1444" cy="746" r="3" fill="none" stroke="#1b1d1c" stroke-width="1"/>
<line x1="1439" y1="746" x2="1449" y2="746" stroke="#1b1d1c" stroke-width="0.8"/>
<line x1="1444" y1="741" x2="1444" y2="751" stroke="#1b1d1c" stroke-width="0.8"/>
<circle cx="1540" cy="746" r="3" fill="none" stroke="#1b1d1c" stroke-width="1"/>
<line x1="1535" y1="746" x2="1545" y2="746" stroke="#1b1d1c" stroke-width="0.8"/>
<line x1="1540" y1="741" x2="1540" y2="751" stroke="#1b1d1c" stroke-width="0.8"/>
<line x1="1491.9" y1="742" x2="1491.9" y2="850" stroke="#444" stroke-width="1" stroke-dasharray="10 4 3 4"/>
<line x1="1444.3" y1="861" x2="1444.3" y2="921" stroke="#1b1d1c" stroke-width="1.1" stroke-dasharray="8 4"/>
<line x1="1539.3" y1="861" x2="1539.3" y2="921" stroke="#1b1d1c" stroke-width="1.1" stroke-dasharray="8 4"/>
<line x1="1435.5" y1="877.5" x2="1435.5" y2="956.5" stroke="#1b1d1c" stroke-width="1.2"/>
<line x1="1548" y1="877.5" x2="1548" y2="956.5" stroke="#1b1d1c" stroke-width="1.2"/>
<line x1="1444.3" y1="911.8" x2="1539.3" y2="911.8" stroke="#1b1d1c" stroke-width="1.2"/>
<polygon points="1444.3,911.8 1453.3,909.2 1453.3,914.4" fill="#bbb" stroke="#1b1d1c" stroke-width="0.9"/>
<polygon points="1539.3,911.8 1530.3,909.2 1530.3,914.4" fill="#bbb" stroke="#1b1d1c" stroke-width="0.9"/>
<text x="1493.25" y="907.5" font-size="20.5" text-anchor="middle" fill="#1b1d1c">220</text>
<line x1="1435.5" y1="951.5" x2="1548" y2="951.5" stroke="#1b1d1c" stroke-width="1.4"/>
<polygon points="1435.5,951.5 1444.5,948.9 1444.5,954.1" fill="#bbb" stroke="#1b1d1c" stroke-width="0.9"/>
<polygon points="1548,951.5 1539,948.9 1539,954.1" fill="#bbb" stroke="#1b1d1c" stroke-width="0.9"/>
<text x="1493.25" y="947" font-size="20.5" text-anchor="middle" fill="#1b1d1c">260</text>
<line x1="939" y1="791.8" x2="1565" y2="791.8" stroke="#555" stroke-width="1.1" stroke-dasharray="12 5 3 5"/>
<line x1="1382" y1="853.5" x2="1466" y2="853.5" stroke="#1b1d1c" stroke-width="1.1"/>
<line x1="1441.25" y1="848.75" x2="1441.25" y2="859.4" stroke="#1b1d1c" stroke-width="1.5"/>
<line x1="1447.5" y1="848.75" x2="1447.5" y2="859.4" stroke="#1b1d1c" stroke-width="1.5"/>
<polygon points="1441.25,853.5 1432.25,850.9 1432.25,856.1" fill="#bbb" stroke="#1b1d1c" stroke-width="0.9"/>
<polygon points="1447.5,853.5 1456.5,850.9 1456.5,856.1" fill="#bbb" stroke="#1b1d1c" stroke-width="0.9"/>
</svg>
<div class="r" style="left:8px;top:1046px;width:239px;height:916px;background:#c6e9f8"></div>
<div class="r" style="left:247px;top:1046px;width:290px;height:916px;background:#fefbd6"></div>
<div class="r" style="left:537px;top:1046px;width:731px;height:916px;background:#c6e9f8"></div>
<div class="r" style="left:865px;top:1130px;width:330px;height:832px;background:#fefbd6"></div>
<div class="r" style="left:1268px;top:1046px;width:153px;height:916px;background:#c6e9f8"></div>
<div class="r" style="left:1421px;top:1046px;width:160px;height:916px;background:#fefbd6"></div>
<div class="r" style="left:6px;top:1040px;width:250px;height:1px;background:#8a8a8a"></div>
<div class="r" style="left:8px;top:1046px;width:1575px;height:2px;background:#1b1d1c"></div>
<div class="r" style="left:536px;top:1129px;width:733px;height:2px;background:#1b1d1c"></div>
<div class="r" style="left:8px;top:1196px;width:1575px;height:3px;background:#1b1d1c"></div>
<div class="r" style="left:8px;top:1504px;width:1575px;height:3px;background:#1b1d1c"></div>
<div class="r" style="left:8px;top:1756px;width:1575px;height:3px;background:#1b1d1c"></div>
<div class="r" style="left:8px;top:1960px;width:1575px;height:3px;background:#1b1d1c"></div>
<div class="r" style="left:8px;top:1046px;width:2px;height:916px;background:#1b1d1c"></div>
<div class="r" style="left:1580px;top:1046px;width:3px;height:916px;background:#1b1d1c"></div>
<div class="r" style="left:246px;top:1046px;width:3px;height:916px;background:#1b1d1c"></div>
<div class="r" style="left:536px;top:1046px;width:3px;height:916px;background:#1b1d1c"></div>
<div class="r" style="left:1267px;top:1046px;width:3px;height:916px;background:#1b1d1c"></div>
<div class="r" style="left:1419px;top:1046px;width:3px;height:916px;background:#1b1d1c"></div>
<div class="r" style="left:329px;top:1164px;width:3px;height:798px;background:#1b1d1c"></div>
<div class="r" style="left:404px;top:1164px;width:3px;height:798px;background:#1b1d1c"></div>
<div class="r" style="left:617px;top:1129px;width:3px;height:833px;background:#1b1d1c"></div>
<div class="r" style="left:700px;top:1129px;width:3px;height:833px;background:#1b1d1c"></div>
<div class="r" style="left:782px;top:1129px;width:3px;height:833px;background:#1b1d1c"></div>
<div class="r" style="left:864px;top:1129px;width:3px;height:833px;background:#1b1d1c"></div>
<div class="r" style="left:946px;top:1129px;width:3px;height:833px;background:#1b1d1c"></div>
<div class="r" style="left:1029px;top:1129px;width:3px;height:833px;background:#1b1d1c"></div>
<div class="r" style="left:1111px;top:1129px;width:3px;height:833px;background:#1b1d1c"></div>
<div class="r" style="left:1194px;top:1129px;width:3px;height:833px;background:#1b1d1c"></div>
<div class="t" style="left:46.50px;top:1088.65px;font-size:20.5px;">Тип насоса</div>
<div class="t" style="left:259.00px;top:1088.65px;font-size:20.5px;">Мощность</div>
<div class="t" style="left:259.00px;top:1112.65px;font-size:20.5px;letter-spacing:0.55px;">двигателя</div>
<div class="t" style="left:429.00px;top:1089.07px;font-size:20px;transform:scaleX(0.915);transform-origin:0 0;">Двигатель</div>
<div class="t" style="left:248.00px;width:80px;text-align:center;top:1171.30px;font-size:21.5px;">kW</div>
<div class="t" style="left:330.00px;width:80px;text-align:center;top:1171.30px;font-size:21.5px;">HP</div>
<div class="t" style="left:871.00px;width:80px;text-align:center;top:1084.30px;font-size:21.5px;">mm</div>
<div class="t" style="left:537.50px;width:80px;text-align:center;top:1170.80px;font-size:21.5px;">DN</div>
<div class="t" style="left:620.00px;width:80px;text-align:center;top:1170.80px;font-size:21.5px;">a</div>
<div class="t" style="left:702.50px;width:80px;text-align:center;top:1170.80px;font-size:21.5px;">h1</div>
<div class="t" style="left:784.50px;width:80px;text-align:center;top:1170.80px;font-size:21.5px;">f</div>
<div class="t" style="left:866.00px;width:80px;text-align:center;top:1170.80px;font-size:21.5px;">M</div>
<div class="t" style="left:948.75px;width:80px;text-align:center;top:1170.80px;font-size:21.5px;">fM</div>
<div class="t" style="left:1031.25px;width:80px;text-align:center;top:1170.80px;font-size:21.5px;">P</div>
<div class="t" style="left:1114.00px;width:80px;text-align:center;top:1170.80px;font-size:21.5px;">AD</div>
<div class="t" style="left:1192.00px;width:80px;text-align:center;top:1170.80px;font-size:21.5px;">m4</div>
<div class="t" style="left:877.00px;width:60px;text-align:center;top:1144.69px;font-size:17.5px;">(6)</div>
<div class="t" style="left:1124.00px;width:60px;text-align:center;top:1144.69px;font-size:17.5px;">(6)</div>
<div class="t" style="left:1237.00px;width:200px;text-align:center;top:1061.57px;font-size:20px;transform:scaleX(0.87);transform-origin:50% 0;">насоса без</div>
<div class="t" style="left:1237.00px;width:200px;text-align:center;top:1085.07px;font-size:20px;transform:scaleX(0.87);transform-origin:50% 0;">двигателя</div>
<div class="t" style="left:1263.00px;width:160px;text-align:center;top:1140.38px;font-size:22px;letter-spacing:0.8px;">MXV <span style="font-size:20px">(5)</span></div>
<div class="t" style="left:1263.00px;width:160px;text-align:center;top:1166.38px;font-size:22px;letter-spacing:0.8px;">kg <span style="font-size:20px">(7)</span></div>
<div class="t" style="left:1395.00px;width:200px;text-align:center;top:1062.07px;font-size:20px;transform:scaleX(0.87);transform-origin:50% 0;">насоса с</div>
<div class="t" style="left:1395.00px;width:200px;text-align:center;top:1085.07px;font-size:20px;transform:scaleX(0.87);transform-origin:50% 0;">двигателем</div>
<div class="t" style="left:1415.00px;width:160px;text-align:center;top:1140.38px;font-size:22px;"><span style="font-size:20px">(6)</span></div>
<div class="t" style="left:1415.00px;width:160px;text-align:center;top:1166.38px;font-size:22px;letter-spacing:0.8px;">kg <span style="font-size:20px">(7)</span></div>
<div class="t" style="left:43.00px;top:1205.22px;font-size:21px;letter-spacing:0.35px;">MXV 50-1603/C</div>
<div class="t" style="left:228.00px;width:120px;text-align:center;top:1205.80px;font-size:21.5px;">3</div>
<div class="t" style="left:310.00px;width:120px;text-align:center;top:1205.80px;font-size:21.5px;">4</div>
<div class="t" style="left:411.50px;width:120px;text-align:center;top:1205.80px;font-size:21.5px;">M100 V1</div>
<div class="t" style="left:517.50px;width:120px;text-align:center;top:1206.80px;font-size:21.5px;">50</div>
<div class="t" style="left:600.00px;width:120px;text-align:center;top:1206.80px;font-size:21.5px;">300</div>
<div class="t" style="left:682.00px;width:120px;text-align:center;top:1206.80px;font-size:21.5px;">90</div>
<div class="t" style="left:764.50px;width:120px;text-align:center;top:1205.30px;font-size:21.5px;">395</div>
<div class="t" style="left:846.00px;width:120px;text-align:center;top:1205.30px;font-size:21.5px;">311</div>
<div class="t" style="left:928.75px;width:120px;text-align:center;top:1205.30px;font-size:21.5px;">706</div>
<div class="t" style="left:1011.50px;width:120px;text-align:center;top:1205.30px;font-size:21.5px;">250</div>
<div class="t" style="left:1092.50px;width:120px;text-align:center;top:1205.30px;font-size:21.5px;">137,5</div>
<div class="t" style="left:1172.50px;width:120px;text-align:center;top:1205.30px;font-size:21.5px;">322</div>
<div class="t" style="left:1283.50px;width:120px;text-align:center;top:1205.30px;font-size:21.5px;">42</div>
<div class="t" style="left:1436.00px;width:120px;text-align:center;top:1205.30px;font-size:21.5px;">67,6</div>
<div class="t" style="left:43.00px;top:1231.52px;font-size:21px;letter-spacing:0.35px;">MXV 50-1604/C</div>
<div class="t" style="left:228.00px;width:120px;text-align:center;top:1232.10px;font-size:21.5px;">4</div>
<div class="t" style="left:310.00px;width:120px;text-align:center;top:1232.10px;font-size:21.5px;">5,5</div>
<div class="t" style="left:411.50px;width:120px;text-align:center;top:1232.10px;font-size:21.5px;">M112 V1</div>
<div class="t" style="left:517.50px;width:120px;text-align:center;top:1233.10px;font-size:21.5px;">50</div>
<div class="t" style="left:600.00px;width:120px;text-align:center;top:1233.10px;font-size:21.5px;">300</div>
<div class="t" style="left:682.00px;width:120px;text-align:center;top:1233.10px;font-size:21.5px;">90</div>
<div class="t" style="left:764.50px;width:120px;text-align:center;top:1231.60px;font-size:21.5px;">430</div>
<div class="t" style="left:846.00px;width:120px;text-align:center;top:1231.60px;font-size:21.5px;">311</div>
<div class="t" style="left:928.75px;width:120px;text-align:center;top:1231.60px;font-size:21.5px;">741</div>
<div class="t" style="left:1011.50px;width:120px;text-align:center;top:1231.60px;font-size:21.5px;">250</div>
<div class="t" style="left:1092.50px;width:120px;text-align:center;top:1231.60px;font-size:21.5px;">137,5</div>
<div class="t" style="left:1172.50px;width:120px;text-align:center;top:1231.60px;font-size:21.5px;">357</div>
<div class="t" style="left:1283.50px;width:120px;text-align:center;top:1231.60px;font-size:21.5px;">43</div>
<div class="t" style="left:1436.00px;width:120px;text-align:center;top:1231.60px;font-size:21.5px;">70,8</div>
<div class="t" style="left:43.00px;top:1255.32px;font-size:21px;letter-spacing:0.35px;">MXV 50-1605/C</div>
<div class="t" style="left:228.00px;width:120px;text-align:center;top:1255.90px;font-size:21.5px;">5,5</div>
<div class="t" style="left:310.00px;width:120px;text-align:center;top:1255.90px;font-size:21.5px;">7,5</div>
<div class="t" style="left:411.50px;width:120px;text-align:center;top:1255.90px;font-size:21.5px;">M132 V1</div>
<div class="t" style="left:517.50px;width:120px;text-align:center;top:1256.90px;font-size:21.5px;">50</div>
<div class="t" style="left:600.00px;width:120px;text-align:center;top:1256.90px;font-size:21.5px;">300</div>
<div class="t" style="left:682.00px;width:120px;text-align:center;top:1256.90px;font-size:21.5px;">90</div>
<div class="t" style="left:764.50px;width:120px;text-align:center;top:1255.40px;font-size:21.5px;">484</div>
<div class="t" style="left:846.00px;width:120px;text-align:center;top:1255.40px;font-size:21.5px;">339</div>
<div class="t" style="left:928.75px;width:120px;text-align:center;top:1255.40px;font-size:21.5px;">823</div>
<div class="t" style="left:1011.50px;width:120px;text-align:center;top:1255.40px;font-size:21.5px;">300</div>
<div class="t" style="left:1092.50px;width:120px;text-align:center;top:1255.40px;font-size:21.5px;">159,5</div>
<div class="t" style="left:1172.50px;width:120px;text-align:center;top:1255.40px;font-size:21.5px;">391</div>
<div class="t" style="left:1283.50px;width:120px;text-align:center;top:1255.40px;font-size:21.5px;">49</div>
<div class="t" style="left:1436.00px;width:120px;text-align:center;top:1255.40px;font-size:21.5px;">91,3</div>
<div class="t" style="left:43.00px;top:1280.42px;font-size:21px;letter-spacing:0.35px;">MXV 50-1606/C</div>
<div class="t" style="left:228.00px;width:120px;text-align:center;top:1281.00px;font-size:21.5px;">5,5</div>
<div class="t" style="left:310.00px;width:120px;text-align:center;top:1281.00px;font-size:21.5px;">7,5</div>
<div class="t" style="left:411.50px;width:120px;text-align:center;top:1281.00px;font-size:21.5px;">M132 V1</div>
<div class="t" style="left:517.50px;width:120px;text-align:center;top:1282.00px;font-size:21.5px;">50</div>
<div class="t" style="left:600.00px;width:120px;text-align:center;top:1282.00px;font-size:21.5px;">300</div>
<div class="t" style="left:682.00px;width:120px;text-align:center;top:1282.00px;font-size:21.5px;">90</div>
<div class="t" style="left:764.50px;width:120px;text-align:center;top:1280.50px;font-size:21.5px;">519</div>
<div class="t" style="left:846.00px;width:120px;text-align:center;top:1280.50px;font-size:21.5px;">339</div>
<div class="t" style="left:928.75px;width:120px;text-align:center;top:1280.50px;font-size:21.5px;">858</div>
<div class="t" style="left:1011.50px;width:120px;text-align:center;top:1280.50px;font-size:21.5px;">300</div>
<div class="t" style="left:1092.50px;width:120px;text-align:center;top:1280.50px;font-size:21.5px;">159,5</div>
<div class="t" style="left:1172.50px;width:120px;text-align:center;top:1280.50px;font-size:21.5px;">426</div>
<div class="t" style="left:1283.50px;width:120px;text-align:center;top:1280.50px;font-size:21.5px;">51</div>
<div class="t" style="left:1436.00px;width:120px;text-align:center;top:1280.50px;font-size:21.5px;">93,3</div>
<div class="t" style="left:43.00px;top:1305.52px;font-size:21px;letter-spacing:0.35px;">MXV 50-1607/C</div>
<div class="t" style="left:228.00px;width:120px;text-align:center;top:1306.10px;font-size:21.5px;">7,5</div>
<div class="t" style="left:310.00px;width:120px;text-align:center;top:1306.10px;font-size:21.5px;">10</div>
<div class="t" style="left:411.50px;width:120px;text-align:center;top:1306.10px;font-size:21.5px;">M132 V1</div>
<div class="t" style="left:517.50px;width:120px;text-align:center;top:1307.10px;font-size:21.5px;">50</div>
<div class="t" style="left:600.00px;width:120px;text-align:center;top:1307.10px;font-size:21.5px;">300</div>
<div class="t" style="left:682.00px;width:120px;text-align:center;top:1307.10px;font-size:21.5px;">90</div>
<div class="t" style="left:764.50px;width:120px;text-align:center;top:1305.60px;font-size:21.5px;">553</div>
<div class="t" style="left:846.00px;width:120px;text-align:center;top:1305.60px;font-size:21.5px;">339</div>
<div class="t" style="left:928.75px;width:120px;text-align:center;top:1305.60px;font-size:21.5px;">892</div>
<div class="t" style="left:1011.50px;width:120px;text-align:center;top:1305.60px;font-size:21.5px;">300</div>
<div class="t" style="left:1092.50px;width:120px;text-align:center;top:1305.60px;font-size:21.5px;">159,5</div>
<div class="t" style="left:1172.50px;width:120px;text-align:center;top:1305.60px;font-size:21.5px;">460</div>
<div class="t" style="left:1283.50px;width:120px;text-align:center;top:1305.60px;font-size:21.5px;">52</div>
<div class="t" style="left:1436.00px;width:120px;text-align:center;top:1305.60px;font-size:21.5px;">99,7</div>
<div class="t" style="left:43.00px;top:1329.82px;font-size:21px;letter-spacing:0.35px;">MXV 50-1608/C</div>
<div class="t" style="left:228.00px;width:120px;text-align:center;top:1330.40px;font-size:21.5px;">7,5</div>
<div class="t" style="left:310.00px;width:120px;text-align:center;top:1330.40px;font-size:21.5px;">10</div>
<div class="t" style="left:411.50px;width:120px;text-align:center;top:1330.40px;font-size:21.5px;">M132 V1</div>
<div class="t" style="left:517.50px;width:120px;text-align:center;top:1331.40px;font-size:21.5px;">50</div>
<div class="t" style="left:600.00px;width:120px;text-align:center;top:1331.40px;font-size:21.5px;">300</div>
<div class="t" style="left:682.00px;width:120px;text-align:center;top:1331.40px;font-size:21.5px;">90</div>
<div class="t" style="left:764.50px;width:120px;text-align:center;top:1329.90px;font-size:21.5px;">588</div>
<div class="t" style="left:846.00px;width:120px;text-align:center;top:1329.90px;font-size:21.5px;">339</div>
<div class="t" style="left:928.75px;width:120px;text-align:center;top:1329.90px;font-size:21.5px;">927</div>
<div class="t" style="left:1011.50px;width:120px;text-align:center;top:1329.90px;font-size:21.5px;">300</div>
<div class="t" style="left:1092.50px;width:120px;text-align:center;top:1329.90px;font-size:21.5px;">159,5</div>
<div class="t" style="left:1172.50px;width:120px;text-align:center;top:1329.90px;font-size:21.5px;">495</div>
<div class="t" style="left:1283.50px;width:120px;text-align:center;top:1329.90px;font-size:21.5px;">53</div>
<div class="t" style="left:1436.00px;width:120px;text-align:center;top:1329.90px;font-size:21.5px;">100,7</div>
<div class="t" style="left:43.00px;top:1354.62px;font-size:21px;letter-spacing:0.35px;">MXV 50-1609/D</div>
<div class="t" style="left:228.00px;width:120px;text-align:center;top:1355.20px;font-size:21.5px;">11</div>
<div class="t" style="left:310.00px;width:120px;text-align:center;top:1355.20px;font-size:21.5px;">15</div>
<div class="t" style="left:411.50px;width:120px;text-align:center;top:1355.20px;font-size:21.5px;">M160 V1</div>
<div class="t" style="left:517.50px;width:120px;text-align:center;top:1356.20px;font-size:21.5px;">50</div>
<div class="t" style="left:600.00px;width:120px;text-align:center;top:1356.20px;font-size:21.5px;">300</div>
<div class="t" style="left:682.00px;width:120px;text-align:center;top:1356.20px;font-size:21.5px;">90</div>
<div class="t" style="left:764.50px;width:120px;text-align:center;top:1354.70px;font-size:21.5px;">652</div>
<div class="t" style="left:846.00px;width:120px;text-align:center;top:1354.70px;font-size:21.5px;">459</div>
<div class="t" style="left:928.75px;width:120px;text-align:center;top:1354.70px;font-size:21.5px;">1111</div>
<div class="t" style="left:1011.50px;width:120px;text-align:center;top:1354.70px;font-size:21.5px;">350</div>
<div class="t" style="left:1092.50px;width:120px;text-align:center;top:1354.70px;font-size:21.5px;">186</div>
<div class="t" style="left:1172.50px;width:120px;text-align:center;top:1354.70px;font-size:21.5px;">529</div>
<div class="t" style="left:1283.50px;width:120px;text-align:center;top:1354.70px;font-size:21.5px;">62</div>
<div class="t" style="left:1436.00px;width:120px;text-align:center;top:1354.70px;font-size:21.5px;">138</div>
<div class="t" style="left:43.00px;top:1379.32px;font-size:21px;letter-spacing:0.35px;">MXV 50-1610/D</div>
<div class="t" style="left:228.00px;width:120px;text-align:center;top:1379.90px;font-size:21.5px;">11</div>
<div class="t" style="left:310.00px;width:120px;text-align:center;top:1379.90px;font-size:21.5px;">15</div>
<div class="t" style="left:411.50px;width:120px;text-align:center;top:1379.90px;font-size:21.5px;">M160 V1</div>
<div class="t" style="left:517.50px;width:120px;text-align:center;top:1380.90px;font-size:21.5px;">50</div>
<div class="t" style="left:600.00px;width:120px;text-align:center;top:1380.90px;font-size:21.5px;">300</div>
<div class="t" style="left:682.00px;width:120px;text-align:center;top:1380.90px;font-size:21.5px;">90</div>
<div class="t" style="left:764.50px;width:120px;text-align:center;top:1379.40px;font-size:21.5px;">687</div>
<div class="t" style="left:846.00px;width:120px;text-align:center;top:1379.40px;font-size:21.5px;">459</div>
<div class="t" style="left:928.75px;width:120px;text-align:center;top:1379.40px;font-size:21.5px;">1146</div>
<div class="t" style="left:1011.50px;width:120px;text-align:center;top:1379.40px;font-size:21.5px;">350</div>
<div class="t" style="left:1092.50px;width:120px;text-align:center;top:1379.40px;font-size:21.5px;">186</div>
<div class="t" style="left:1172.50px;width:120px;text-align:center;top:1379.40px;font-size:21.5px;">564</div>
<div class="t" style="left:1283.50px;width:120px;text-align:center;top:1379.40px;font-size:21.5px;">64</div>
<div class="t" style="left:1436.00px;width:120px;text-align:center;top:1379.40px;font-size:21.5px;">140</div>
<div class="t" style="left:43.00px;top:1404.02px;font-size:21px;letter-spacing:0.35px;">MXV 50-1611/D</div>
<div class="t" style="left:228.00px;width:120px;text-align:center;top:1404.60px;font-size:21.5px;">11</div>
<div class="t" style="left:310.00px;width:120px;text-align:center;top:1404.60px;font-size:21.5px;">15</div>
<div class="t" style="left:411.50px;width:120px;text-align:center;top:1404.60px;font-size:21.5px;">M160 V1</div>
<div class="t" style="left:517.50px;width:120px;text-align:center;top:1405.60px;font-size:21.5px;">50</div>
<div class="t" style="left:600.00px;width:120px;text-align:center;top:1405.60px;font-size:21.5px;">300</div>
<div class="t" style="left:682.00px;width:120px;text-align:center;top:1405.60px;font-size:21.5px;">90</div>
<div class="t" style="left:764.50px;width:120px;text-align:center;top:1404.10px;font-size:21.5px;">721</div>
<div class="t" style="left:846.00px;width:120px;text-align:center;top:1404.10px;font-size:21.5px;">459</div>
<div class="t" style="left:928.75px;width:120px;text-align:center;top:1404.10px;font-size:21.5px;">1180</div>
<div class="t" style="left:1011.50px;width:120px;text-align:center;top:1404.10px;font-size:21.5px;">350</div>
<div class="t" style="left:1092.50px;width:120px;text-align:center;top:1404.10px;font-size:21.5px;">186</div>
<div class="t" style="left:1172.50px;width:120px;text-align:center;top:1404.10px;font-size:21.5px;">598</div>
<div class="t" style="left:1283.50px;width:120px;text-align:center;top:1404.10px;font-size:21.5px;">65</div>
<div class="t" style="left:1436.00px;width:120px;text-align:center;top:1404.10px;font-size:21.5px;">141</div>
<div class="t" style="left:43.00px;top:1428.72px;font-size:21px;letter-spacing:0.35px;">MXV 50-1612/D</div>
<div class="t" style="left:228.00px;width:120px;text-align:center;top:1429.30px;font-size:21.5px;">15</div>
<div class="t" style="left:310.00px;width:120px;text-align:center;top:1429.30px;font-size:21.5px;">20</div>
<div class="t" style="left:411.50px;width:120px;text-align:center;top:1429.30px;font-size:21.5px;">M160 V1</div>
<div class="t" style="left:517.50px;width:120px;text-align:center;top:1430.30px;font-size:21.5px;">50</div>
<div class="t" style="left:600.00px;width:120px;text-align:center;top:1430.30px;font-size:21.5px;">300</div>
<div class="t" style="left:682.00px;width:120px;text-align:center;top:1430.30px;font-size:21.5px;">90</div>
<div class="t" style="left:764.50px;width:120px;text-align:center;top:1428.80px;font-size:21.5px;">756</div>
<div class="t" style="left:846.00px;width:120px;text-align:center;top:1428.80px;font-size:21.5px;">484</div>
<div class="t" style="left:928.75px;width:120px;text-align:center;top:1428.80px;font-size:21.5px;">1240</div>
<div class="t" style="left:1011.50px;width:120px;text-align:center;top:1428.80px;font-size:21.5px;">350</div>
<div class="t" style="left:1092.50px;width:120px;text-align:center;top:1428.80px;font-size:21.5px;">186</div>
<div class="t" style="left:1172.50px;width:120px;text-align:center;top:1428.80px;font-size:21.5px;">633</div>
<div class="t" style="left:1283.50px;width:120px;text-align:center;top:1428.80px;font-size:21.5px;">67</div>
<div class="t" style="left:1436.00px;width:120px;text-align:center;top:1428.80px;font-size:21.5px;">169</div>
<div class="t" style="left:43.00px;top:1453.52px;font-size:21px;letter-spacing:0.35px;">MXV 50-1614/D</div>
<div class="t" style="left:228.00px;width:120px;text-align:center;top:1454.10px;font-size:21.5px;">15</div>
<div class="t" style="left:310.00px;width:120px;text-align:center;top:1454.10px;font-size:21.5px;">20</div>
<div class="t" style="left:411.50px;width:120px;text-align:center;top:1454.10px;font-size:21.5px;">M160 V1</div>
<div class="t" style="left:517.50px;width:120px;text-align:center;top:1455.10px;font-size:21.5px;">50</div>
<div class="t" style="left:600.00px;width:120px;text-align:center;top:1455.10px;font-size:21.5px;">300</div>
<div class="t" style="left:682.00px;width:120px;text-align:center;top:1455.10px;font-size:21.5px;">90</div>
<div class="t" style="left:764.50px;width:120px;text-align:center;top:1453.60px;font-size:21.5px;">825</div>
<div class="t" style="left:846.00px;width:120px;text-align:center;top:1453.60px;font-size:21.5px;">484</div>
<div class="t" style="left:928.75px;width:120px;text-align:center;top:1453.60px;font-size:21.5px;">1309</div>
<div class="t" style="left:1011.50px;width:120px;text-align:center;top:1453.60px;font-size:21.5px;">350</div>
<div class="t" style="left:1092.50px;width:120px;text-align:center;top:1453.60px;font-size:21.5px;">186</div>
<div class="t" style="left:1172.50px;width:120px;text-align:center;top:1453.60px;font-size:21.5px;">702</div>
<div class="t" style="left:1283.50px;width:120px;text-align:center;top:1453.60px;font-size:21.5px;">70</div>
<div class="t" style="left:1436.00px;width:120px;text-align:center;top:1453.60px;font-size:21.5px;">172</div>
<div class="t" style="left:43.00px;top:1478.12px;font-size:21px;letter-spacing:0.35px;">MXV 50-1616/D</div>
<div class="t" style="left:228.00px;width:120px;text-align:center;top:1478.70px;font-size:21.5px;">18,5</div>
<div class="t" style="left:310.00px;width:120px;text-align:center;top:1478.70px;font-size:21.5px;">25</div>
<div class="t" style="left:411.50px;width:120px;text-align:center;top:1478.70px;font-size:21.5px;">M160 V1</div>
<div class="t" style="left:517.50px;width:120px;text-align:center;top:1479.70px;font-size:21.5px;">50</div>
<div class="t" style="left:600.00px;width:120px;text-align:center;top:1479.70px;font-size:21.5px;">300</div>
<div class="t" style="left:682.00px;width:120px;text-align:center;top:1479.70px;font-size:21.5px;">90</div>
<div class="t" style="left:764.50px;width:120px;text-align:center;top:1478.20px;font-size:21.5px;">894</div>
<div class="t" style="left:846.00px;width:120px;text-align:center;top:1478.20px;font-size:21.5px;">484</div>
<div class="t" style="left:928.75px;width:120px;text-align:center;top:1478.20px;font-size:21.5px;">1378</div>
<div class="t" style="left:1011.50px;width:120px;text-align:center;top:1478.20px;font-size:21.5px;">350</div>
<div class="t" style="left:1092.50px;width:120px;text-align:center;top:1478.20px;font-size:21.5px;">186</div>
<div class="t" style="left:1172.50px;width:120px;text-align:center;top:1478.20px;font-size:21.5px;">771</div>
<div class="t" style="left:1283.50px;width:120px;text-align:center;top:1478.20px;font-size:21.5px;">73</div>
<div class="t" style="left:1436.00px;width:120px;text-align:center;top:1478.20px;font-size:21.5px;">179,5</div>
<div class="t" style="left:43.00px;top:1511.02px;font-size:21px;letter-spacing:0.35px;">MXV 65-3202/C</div>
<div class="t" style="left:228.00px;width:120px;text-align:center;top:1511.60px;font-size:21.5px;">4</div>
<div class="t" style="left:310.00px;width:120px;text-align:center;top:1511.60px;font-size:21.5px;">5,5</div>
<div class="t" style="left:411.50px;width:120px;text-align:center;top:1511.60px;font-size:21.5px;">M112 V1</div>
<div class="t" style="left:517.50px;width:120px;text-align:center;top:1512.60px;font-size:21.5px;">65</div>
<div class="t" style="left:600.00px;width:120px;text-align:center;top:1512.60px;font-size:21.5px;">320</div>
<div class="t" style="left:682.00px;width:120px;text-align:center;top:1512.60px;font-size:21.5px;">105</div>
<div class="t" style="left:764.50px;width:120px;text-align:center;top:1511.10px;font-size:21.5px;">407</div>
<div class="t" style="left:846.00px;width:120px;text-align:center;top:1511.10px;font-size:21.5px;">311</div>
<div class="t" style="left:928.75px;width:120px;text-align:center;top:1511.10px;font-size:21.5px;">718</div>
<div class="t" style="left:1011.50px;width:120px;text-align:center;top:1511.10px;font-size:21.5px;">250</div>
<div class="t" style="left:1092.50px;width:120px;text-align:center;top:1511.10px;font-size:21.5px;">137,5</div>
<div class="t" style="left:1172.50px;width:120px;text-align:center;top:1511.10px;font-size:21.5px;">334</div>
<div class="t" style="left:1283.50px;width:120px;text-align:center;top:1511.10px;font-size:21.5px;">45</div>
<div class="t" style="left:1436.00px;width:120px;text-align:center;top:1511.10px;font-size:21.5px;">72,8</div>
<div class="t" style="left:43.00px;top:1535.72px;font-size:21px;letter-spacing:0.35px;">MXV 65-3203/C</div>
<div class="t" style="left:228.00px;width:120px;text-align:center;top:1536.30px;font-size:21.5px;">5,5</div>
<div class="t" style="left:310.00px;width:120px;text-align:center;top:1536.30px;font-size:21.5px;">7,5</div>
<div class="t" style="left:411.50px;width:120px;text-align:center;top:1536.30px;font-size:21.5px;">M132 V1</div>
<div class="t" style="left:517.50px;width:120px;text-align:center;top:1537.30px;font-size:21.5px;">65</div>
<div class="t" style="left:600.00px;width:120px;text-align:center;top:1537.30px;font-size:21.5px;">320</div>
<div class="t" style="left:682.00px;width:120px;text-align:center;top:1537.30px;font-size:21.5px;">105</div>
<div class="t" style="left:764.50px;width:120px;text-align:center;top:1535.80px;font-size:21.5px;">473</div>
<div class="t" style="left:846.00px;width:120px;text-align:center;top:1535.80px;font-size:21.5px;">339</div>
<div class="t" style="left:928.75px;width:120px;text-align:center;top:1535.80px;font-size:21.5px;">812</div>
<div class="t" style="left:1011.50px;width:120px;text-align:center;top:1535.80px;font-size:21.5px;">300</div>
<div class="t" style="left:1092.50px;width:120px;text-align:center;top:1535.80px;font-size:21.5px;">159,5</div>
<div class="t" style="left:1172.50px;width:120px;text-align:center;top:1535.80px;font-size:21.5px;">380</div>
<div class="t" style="left:1283.50px;width:120px;text-align:center;top:1535.80px;font-size:21.5px;">51</div>
<div class="t" style="left:1436.00px;width:120px;text-align:center;top:1535.80px;font-size:21.5px;">93,3</div>
<div class="t" style="left:43.00px;top:1560.42px;font-size:21px;letter-spacing:0.35px;">MXV 65-3204/C</div>
<div class="t" style="left:228.00px;width:120px;text-align:center;top:1561.00px;font-size:21.5px;">7,5</div>
<div class="t" style="left:310.00px;width:120px;text-align:center;top:1561.00px;font-size:21.5px;">10</div>
<div class="t" style="left:411.50px;width:120px;text-align:center;top:1561.00px;font-size:21.5px;">M132 V1</div>
<div class="t" style="left:517.50px;width:120px;text-align:center;top:1562.00px;font-size:21.5px;">65</div>
<div class="t" style="left:600.00px;width:120px;text-align:center;top:1562.00px;font-size:21.5px;">320</div>
<div class="t" style="left:682.00px;width:120px;text-align:center;top:1562.00px;font-size:21.5px;">105</div>
<div class="t" style="left:764.50px;width:120px;text-align:center;top:1560.50px;font-size:21.5px;">519</div>
<div class="t" style="left:846.00px;width:120px;text-align:center;top:1560.50px;font-size:21.5px;">339</div>
<div class="t" style="left:928.75px;width:120px;text-align:center;top:1560.50px;font-size:21.5px;">858</div>
<div class="t" style="left:1011.50px;width:120px;text-align:center;top:1560.50px;font-size:21.5px;">300</div>
<div class="t" style="left:1092.50px;width:120px;text-align:center;top:1560.50px;font-size:21.5px;">159,5</div>
<div class="t" style="left:1172.50px;width:120px;text-align:center;top:1560.50px;font-size:21.5px;">426</div>
<div class="t" style="left:1283.50px;width:120px;text-align:center;top:1560.50px;font-size:21.5px;">53</div>
<div class="t" style="left:1436.00px;width:120px;text-align:center;top:1560.50px;font-size:21.5px;">100,7</div>
<div class="t" style="left:43.00px;top:1584.92px;font-size:21px;letter-spacing:0.35px;">MXV 65-3205/D</div>
<div class="t" style="left:228.00px;width:120px;text-align:center;top:1585.50px;font-size:21.5px;">11</div>
<div class="t" style="left:310.00px;width:120px;text-align:center;top:1585.50px;font-size:21.5px;">15</div>
<div class="t" style="left:411.50px;width:120px;text-align:center;top:1585.50px;font-size:21.5px;">M160 V1</div>
<div class="t" style="left:517.50px;width:120px;text-align:center;top:1586.50px;font-size:21.5px;">65</div>
<div class="t" style="left:600.00px;width:120px;text-align:center;top:1586.50px;font-size:21.5px;">320</div>
<div class="t" style="left:682.00px;width:120px;text-align:center;top:1586.50px;font-size:21.5px;">105</div>
<div class="t" style="left:764.50px;width:120px;text-align:center;top:1585.00px;font-size:21.5px;">595</div>
<div class="t" style="left:846.00px;width:120px;text-align:center;top:1585.00px;font-size:21.5px;">459</div>
<div class="t" style="left:928.75px;width:120px;text-align:center;top:1585.00px;font-size:21.5px;">1054</div>
<div class="t" style="left:1011.50px;width:120px;text-align:center;top:1585.00px;font-size:21.5px;">350</div>
<div class="t" style="left:1092.50px;width:120px;text-align:center;top:1585.00px;font-size:21.5px;">186</div>
<div class="t" style="left:1172.50px;width:120px;text-align:center;top:1585.00px;font-size:21.5px;">472</div>
<div class="t" style="left:1283.50px;width:120px;text-align:center;top:1585.00px;font-size:21.5px;">62</div>
<div class="t" style="left:1436.00px;width:120px;text-align:center;top:1585.00px;font-size:21.5px;">138</div>
<div class="t" style="left:43.00px;top:1609.62px;font-size:21px;letter-spacing:0.35px;">MXV 65-3206/D</div>
<div class="t" style="left:228.00px;width:120px;text-align:center;top:1610.20px;font-size:21.5px;">11</div>
<div class="t" style="left:310.00px;width:120px;text-align:center;top:1610.20px;font-size:21.5px;">15</div>
<div class="t" style="left:411.50px;width:120px;text-align:center;top:1610.20px;font-size:21.5px;">M160 V1</div>
<div class="t" style="left:517.50px;width:120px;text-align:center;top:1611.20px;font-size:21.5px;">65</div>
<div class="t" style="left:600.00px;width:120px;text-align:center;top:1611.20px;font-size:21.5px;">320</div>
<div class="t" style="left:682.00px;width:120px;text-align:center;top:1611.20px;font-size:21.5px;">105</div>
<div class="t" style="left:764.50px;width:120px;text-align:center;top:1609.70px;font-size:21.5px;">641</div>
<div class="t" style="left:846.00px;width:120px;text-align:center;top:1609.70px;font-size:21.5px;">459</div>
<div class="t" style="left:928.75px;width:120px;text-align:center;top:1609.70px;font-size:21.5px;">1100</div>
<div class="t" style="left:1011.50px;width:120px;text-align:center;top:1609.70px;font-size:21.5px;">350</div>
<div class="t" style="left:1092.50px;width:120px;text-align:center;top:1609.70px;font-size:21.5px;">186</div>
<div class="t" style="left:1172.50px;width:120px;text-align:center;top:1609.70px;font-size:21.5px;">518</div>
<div class="t" style="left:1283.50px;width:120px;text-align:center;top:1609.70px;font-size:21.5px;">64</div>
<div class="t" style="left:1436.00px;width:120px;text-align:center;top:1609.70px;font-size:21.5px;">140</div>
<div class="t" style="left:43.00px;top:1634.32px;font-size:21px;letter-spacing:0.35px;">MXV 65-3207/D</div>
<div class="t" style="left:228.00px;width:120px;text-align:center;top:1634.90px;font-size:21.5px;">15</div>
<div class="t" style="left:310.00px;width:120px;text-align:center;top:1634.90px;font-size:21.5px;">20</div>
<div class="t" style="left:411.50px;width:120px;text-align:center;top:1634.90px;font-size:21.5px;">M160 V1</div>
<div class="t" style="left:517.50px;width:120px;text-align:center;top:1635.90px;font-size:21.5px;">65</div>
<div class="t" style="left:600.00px;width:120px;text-align:center;top:1635.90px;font-size:21.5px;">320</div>
<div class="t" style="left:682.00px;width:120px;text-align:center;top:1635.90px;font-size:21.5px;">105</div>
<div class="t" style="left:764.50px;width:120px;text-align:center;top:1634.40px;font-size:21.5px;">687</div>
<div class="t" style="left:846.00px;width:120px;text-align:center;top:1634.40px;font-size:21.5px;">484</div>
<div class="t" style="left:928.75px;width:120px;text-align:center;top:1634.40px;font-size:21.5px;">1171</div>
<div class="t" style="left:1011.50px;width:120px;text-align:center;top:1634.40px;font-size:21.5px;">350</div>
<div class="t" style="left:1092.50px;width:120px;text-align:center;top:1634.40px;font-size:21.5px;">186</div>
<div class="t" style="left:1172.50px;width:120px;text-align:center;top:1634.40px;font-size:21.5px;">564</div>
<div class="t" style="left:1283.50px;width:120px;text-align:center;top:1634.40px;font-size:21.5px;">66</div>
<div class="t" style="left:1436.00px;width:120px;text-align:center;top:1634.40px;font-size:21.5px;">168</div>
<div class="t" style="left:43.00px;top:1659.02px;font-size:21px;letter-spacing:0.35px;">MXV 65-3208/D</div>
<div class="t" style="left:228.00px;width:120px;text-align:center;top:1659.60px;font-size:21.5px;">15</div>
<div class="t" style="left:310.00px;width:120px;text-align:center;top:1659.60px;font-size:21.5px;">20</div>
<div class="t" style="left:411.50px;width:120px;text-align:center;top:1659.60px;font-size:21.5px;">M160 V1</div>
<div class="t" style="left:517.50px;width:120px;text-align:center;top:1660.60px;font-size:21.5px;">65</div>
<div class="t" style="left:600.00px;width:120px;text-align:center;top:1660.60px;font-size:21.5px;">320</div>
<div class="t" style="left:682.00px;width:120px;text-align:center;top:1660.60px;font-size:21.5px;">105</div>
<div class="t" style="left:764.50px;width:120px;text-align:center;top:1659.10px;font-size:21.5px;">733</div>
<div class="t" style="left:846.00px;width:120px;text-align:center;top:1659.10px;font-size:21.5px;">484</div>
<div class="t" style="left:928.75px;width:120px;text-align:center;top:1659.10px;font-size:21.5px;">1217</div>
<div class="t" style="left:1011.50px;width:120px;text-align:center;top:1659.10px;font-size:21.5px;">350</div>
<div class="t" style="left:1092.50px;width:120px;text-align:center;top:1659.10px;font-size:21.5px;">186</div>
<div class="t" style="left:1172.50px;width:120px;text-align:center;top:1659.10px;font-size:21.5px;">610</div>
<div class="t" style="left:1283.50px;width:120px;text-align:center;top:1659.10px;font-size:21.5px;">68</div>
<div class="t" style="left:1436.00px;width:120px;text-align:center;top:1659.10px;font-size:21.5px;">170</div>
<div class="t" style="left:43.00px;top:1683.72px;font-size:21px;letter-spacing:0.35px;">MXV 65-3209/D</div>
<div class="t" style="left:228.00px;width:120px;text-align:center;top:1684.30px;font-size:21.5px;">18,5</div>
<div class="t" style="left:310.00px;width:120px;text-align:center;top:1684.30px;font-size:21.5px;">25</div>
<div class="t" style="left:411.50px;width:120px;text-align:center;top:1684.30px;font-size:21.5px;">M160 V1</div>
<div class="t" style="left:517.50px;width:120px;text-align:center;top:1685.30px;font-size:21.5px;">65</div>
<div class="t" style="left:600.00px;width:120px;text-align:center;top:1685.30px;font-size:21.5px;">320</div>
<div class="t" style="left:682.00px;width:120px;text-align:center;top:1685.30px;font-size:21.5px;">105</div>
<div class="t" style="left:764.50px;width:120px;text-align:center;top:1683.80px;font-size:21.5px;">779</div>
<div class="t" style="left:846.00px;width:120px;text-align:center;top:1683.80px;font-size:21.5px;">484</div>
<div class="t" style="left:928.75px;width:120px;text-align:center;top:1683.80px;font-size:21.5px;">1236</div>
<div class="t" style="left:1011.50px;width:120px;text-align:center;top:1683.80px;font-size:21.5px;">350</div>
<div class="t" style="left:1092.50px;width:120px;text-align:center;top:1683.80px;font-size:21.5px;">186</div>
<div class="t" style="left:1172.50px;width:120px;text-align:center;top:1683.80px;font-size:21.5px;">656</div>
<div class="t" style="left:1283.50px;width:120px;text-align:center;top:1683.80px;font-size:21.5px;">70</div>
<div class="t" style="left:1436.00px;width:120px;text-align:center;top:1683.80px;font-size:21.5px;">176,5</div>
<div class="t" style="left:43.00px;top:1708.42px;font-size:21px;letter-spacing:0.35px;">MXV 65-3210/D</div>
<div class="t" style="left:228.00px;width:120px;text-align:center;top:1709.00px;font-size:21.5px;">18,5</div>
<div class="t" style="left:310.00px;width:120px;text-align:center;top:1709.00px;font-size:21.5px;">25</div>
<div class="t" style="left:411.50px;width:120px;text-align:center;top:1709.00px;font-size:21.5px;">M160 V1</div>
<div class="t" style="left:517.50px;width:120px;text-align:center;top:1710.00px;font-size:21.5px;">65</div>
<div class="t" style="left:600.00px;width:120px;text-align:center;top:1710.00px;font-size:21.5px;">320</div>
<div class="t" style="left:682.00px;width:120px;text-align:center;top:1710.00px;font-size:21.5px;">105</div>
<div class="t" style="left:764.50px;width:120px;text-align:center;top:1708.50px;font-size:21.5px;">825</div>
<div class="t" style="left:846.00px;width:120px;text-align:center;top:1708.50px;font-size:21.5px;">484</div>
<div class="t" style="left:928.75px;width:120px;text-align:center;top:1708.50px;font-size:21.5px;">1309</div>
<div class="t" style="left:1011.50px;width:120px;text-align:center;top:1708.50px;font-size:21.5px;">350</div>
<div class="t" style="left:1092.50px;width:120px;text-align:center;top:1708.50px;font-size:21.5px;">186</div>
<div class="t" style="left:1172.50px;width:120px;text-align:center;top:1708.50px;font-size:21.5px;">702</div>
<div class="t" style="left:1283.50px;width:120px;text-align:center;top:1708.50px;font-size:21.5px;">72</div>
<div class="t" style="left:1436.00px;width:120px;text-align:center;top:1708.50px;font-size:21.5px;">88,5</div>
<div class="t" style="left:43.00px;top:1733.92px;font-size:21px;letter-spacing:0.35px;">MXV 65-3212/D</div>
<div class="t" style="left:228.00px;width:120px;text-align:center;top:1734.50px;font-size:21.5px;">22</div>
<div class="t" style="left:310.00px;width:120px;text-align:center;top:1734.50px;font-size:21.5px;">30</div>
<div class="t" style="left:411.50px;width:120px;text-align:center;top:1734.50px;font-size:21.5px;">M180 V1</div>
<div class="t" style="left:517.50px;width:120px;text-align:center;top:1735.50px;font-size:21.5px;">65</div>
<div class="t" style="left:600.00px;width:120px;text-align:center;top:1735.50px;font-size:21.5px;">320</div>
<div class="t" style="left:682.00px;width:120px;text-align:center;top:1735.50px;font-size:21.5px;">105</div>
<div class="t" style="left:764.50px;width:120px;text-align:center;top:1734.00px;font-size:21.5px;">917</div>
<div class="t" style="left:846.00px;width:120px;text-align:center;top:1734.00px;font-size:21.5px;">538</div>
<div class="t" style="left:928.75px;width:120px;text-align:center;top:1734.00px;font-size:21.5px;">1455</div>
<div class="t" style="left:1011.50px;width:120px;text-align:center;top:1734.00px;font-size:21.5px;">350</div>
<div class="t" style="left:1092.50px;width:120px;text-align:center;top:1734.00px;font-size:21.5px;">206</div>
<div class="t" style="left:1172.50px;width:120px;text-align:center;top:1734.00px;font-size:21.5px;">794</div>
<div class="t" style="left:1283.50px;width:120px;text-align:center;top:1734.00px;font-size:21.5px;">75</div>
<div class="t" style="left:1436.00px;width:120px;text-align:center;top:1734.00px;font-size:21.5px;">204</div>
<div class="t" style="left:43.00px;top:1762.22px;font-size:21px;letter-spacing:0.35px;">MXV 80-4801/C</div>
<div class="t" style="left:228.00px;width:120px;text-align:center;top:1762.80px;font-size:21.5px;">4</div>
<div class="t" style="left:310.00px;width:120px;text-align:center;top:1762.80px;font-size:21.5px;">5,5</div>
<div class="t" style="left:411.50px;width:120px;text-align:center;top:1762.80px;font-size:21.5px;">M112 V1</div>
<div class="t" style="left:517.50px;width:120px;text-align:center;top:1763.80px;font-size:21.5px;">80</div>
<div class="t" style="left:600.00px;width:120px;text-align:center;top:1763.80px;font-size:21.5px;">320</div>
<div class="t" style="left:682.00px;width:120px;text-align:center;top:1763.80px;font-size:21.5px;">105</div>
<div class="t" style="left:764.50px;width:120px;text-align:center;top:1762.30px;font-size:21.5px;">411</div>
<div class="t" style="left:846.00px;width:120px;text-align:center;top:1762.30px;font-size:21.5px;">311</div>
<div class="t" style="left:928.75px;width:120px;text-align:center;top:1762.30px;font-size:21.5px;">722</div>
<div class="t" style="left:1011.50px;width:120px;text-align:center;top:1762.30px;font-size:21.5px;">250</div>
<div class="t" style="left:1092.50px;width:120px;text-align:center;top:1762.30px;font-size:21.5px;">137,5</div>
<div class="t" style="left:1172.50px;width:120px;text-align:center;top:1762.30px;font-size:21.5px;">338</div>
<div class="t" style="left:1283.50px;width:120px;text-align:center;top:1762.30px;font-size:21.5px;">45</div>
<div class="t" style="left:1436.00px;width:120px;text-align:center;top:1762.30px;font-size:21.5px;">72,8</div>
<div class="t" style="left:43.00px;top:1786.82px;font-size:21px;letter-spacing:0.35px;">MXV 80-4802/C</div>
<div class="t" style="left:228.00px;width:120px;text-align:center;top:1787.40px;font-size:21.5px;">5,5</div>
<div class="t" style="left:310.00px;width:120px;text-align:center;top:1787.40px;font-size:21.5px;">7,5</div>
<div class="t" style="left:411.50px;width:120px;text-align:center;top:1787.40px;font-size:21.5px;">M132 V1</div>
<div class="t" style="left:517.50px;width:120px;text-align:center;top:1788.40px;font-size:21.5px;">80</div>
<div class="t" style="left:600.00px;width:120px;text-align:center;top:1788.40px;font-size:21.5px;">320</div>
<div class="t" style="left:682.00px;width:120px;text-align:center;top:1788.40px;font-size:21.5px;">105</div>
<div class="t" style="left:764.50px;width:120px;text-align:center;top:1786.90px;font-size:21.5px;">466</div>
<div class="t" style="left:846.00px;width:120px;text-align:center;top:1786.90px;font-size:21.5px;">339</div>
<div class="t" style="left:928.75px;width:120px;text-align:center;top:1786.90px;font-size:21.5px;">805</div>
<div class="t" style="left:1011.50px;width:120px;text-align:center;top:1786.90px;font-size:21.5px;">300</div>
<div class="t" style="left:1092.50px;width:120px;text-align:center;top:1786.90px;font-size:21.5px;">159,5</div>
<div class="t" style="left:1172.50px;width:120px;text-align:center;top:1786.90px;font-size:21.5px;">373</div>
<div class="t" style="left:1283.50px;width:120px;text-align:center;top:1786.90px;font-size:21.5px;">51</div>
<div class="t" style="left:1436.00px;width:120px;text-align:center;top:1786.90px;font-size:21.5px;">93,3</div>
<div class="t" style="left:43.00px;top:1811.62px;font-size:21px;letter-spacing:0.35px;">MXV 80-4803/C</div>
<div class="t" style="left:228.00px;width:120px;text-align:center;top:1812.20px;font-size:21.5px;">7,5</div>
<div class="t" style="left:310.00px;width:120px;text-align:center;top:1812.20px;font-size:21.5px;">10</div>
<div class="t" style="left:411.50px;width:120px;text-align:center;top:1812.20px;font-size:21.5px;">M132 V1</div>
<div class="t" style="left:517.50px;width:120px;text-align:center;top:1813.20px;font-size:21.5px;">80</div>
<div class="t" style="left:600.00px;width:120px;text-align:center;top:1813.20px;font-size:21.5px;">320</div>
<div class="t" style="left:682.00px;width:120px;text-align:center;top:1813.20px;font-size:21.5px;">105</div>
<div class="t" style="left:764.50px;width:120px;text-align:center;top:1811.70px;font-size:21.5px;">527</div>
<div class="t" style="left:846.00px;width:120px;text-align:center;top:1811.70px;font-size:21.5px;">339</div>
<div class="t" style="left:928.75px;width:120px;text-align:center;top:1811.70px;font-size:21.5px;">866</div>
<div class="t" style="left:1011.50px;width:120px;text-align:center;top:1811.70px;font-size:21.5px;">300</div>
<div class="t" style="left:1092.50px;width:120px;text-align:center;top:1811.70px;font-size:21.5px;">159,5</div>
<div class="t" style="left:1172.50px;width:120px;text-align:center;top:1811.70px;font-size:21.5px;">434</div>
<div class="t" style="left:1283.50px;width:120px;text-align:center;top:1811.70px;font-size:21.5px;">54</div>
<div class="t" style="left:1436.00px;width:120px;text-align:center;top:1811.70px;font-size:21.5px;">101,7</div>
<div class="t" style="left:43.00px;top:1836.22px;font-size:21px;letter-spacing:0.35px;">MXV 80-4804/D</div>
<div class="t" style="left:228.00px;width:120px;text-align:center;top:1836.80px;font-size:21.5px;">11</div>
<div class="t" style="left:310.00px;width:120px;text-align:center;top:1836.80px;font-size:21.5px;">15</div>
<div class="t" style="left:411.50px;width:120px;text-align:center;top:1836.80px;font-size:21.5px;">M160 V1</div>
<div class="t" style="left:517.50px;width:120px;text-align:center;top:1837.80px;font-size:21.5px;">80</div>
<div class="t" style="left:600.00px;width:120px;text-align:center;top:1837.80px;font-size:21.5px;">320</div>
<div class="t" style="left:682.00px;width:120px;text-align:center;top:1837.80px;font-size:21.5px;">105</div>
<div class="t" style="left:764.50px;width:120px;text-align:center;top:1836.30px;font-size:21.5px;">618</div>
<div class="t" style="left:846.00px;width:120px;text-align:center;top:1836.30px;font-size:21.5px;">459</div>
<div class="t" style="left:928.75px;width:120px;text-align:center;top:1836.30px;font-size:21.5px;">1077</div>
<div class="t" style="left:1011.50px;width:120px;text-align:center;top:1836.30px;font-size:21.5px;">350</div>
<div class="t" style="left:1092.50px;width:120px;text-align:center;top:1836.30px;font-size:21.5px;">186</div>
<div class="t" style="left:1172.50px;width:120px;text-align:center;top:1836.30px;font-size:21.5px;">495</div>
<div class="t" style="left:1283.50px;width:120px;text-align:center;top:1836.30px;font-size:21.5px;">64</div>
<div class="t" style="left:1436.00px;width:120px;text-align:center;top:1836.30px;font-size:21.5px;">140</div>
<div class="t" style="left:43.00px;top:1860.97px;font-size:21px;letter-spacing:0.35px;">MXV 80-4805/D</div>
<div class="t" style="left:228.00px;width:120px;text-align:center;top:1861.55px;font-size:21.5px;">15</div>
<div class="t" style="left:310.00px;width:120px;text-align:center;top:1861.55px;font-size:21.5px;">20</div>
<div class="t" style="left:411.50px;width:120px;text-align:center;top:1861.55px;font-size:21.5px;">M160 V1</div>
<div class="t" style="left:517.50px;width:120px;text-align:center;top:1862.55px;font-size:21.5px;">80</div>
<div class="t" style="left:600.00px;width:120px;text-align:center;top:1862.55px;font-size:21.5px;">320</div>
<div class="t" style="left:682.00px;width:120px;text-align:center;top:1862.55px;font-size:21.5px;">105</div>
<div class="t" style="left:764.50px;width:120px;text-align:center;top:1861.05px;font-size:21.5px;">680</div>
<div class="t" style="left:846.00px;width:120px;text-align:center;top:1861.05px;font-size:21.5px;">484</div>
<div class="t" style="left:928.75px;width:120px;text-align:center;top:1861.05px;font-size:21.5px;">1164</div>
<div class="t" style="left:1011.50px;width:120px;text-align:center;top:1861.05px;font-size:21.5px;">350</div>
<div class="t" style="left:1092.50px;width:120px;text-align:center;top:1861.05px;font-size:21.5px;">186</div>
<div class="t" style="left:1172.50px;width:120px;text-align:center;top:1861.05px;font-size:21.5px;">557</div>
<div class="t" style="left:1283.50px;width:120px;text-align:center;top:1861.05px;font-size:21.5px;">66</div>
<div class="t" style="left:1436.00px;width:120px;text-align:center;top:1861.05px;font-size:21.5px;">168</div>
<div class="t" style="left:43.00px;top:1885.72px;font-size:21px;letter-spacing:0.35px;">MXV 80-4806/D</div>
<div class="t" style="left:228.00px;width:120px;text-align:center;top:1886.30px;font-size:21.5px;">15</div>
<div class="t" style="left:310.00px;width:120px;text-align:center;top:1886.30px;font-size:21.5px;">20</div>
<div class="t" style="left:411.50px;width:120px;text-align:center;top:1886.30px;font-size:21.5px;">M160 V1</div>
<div class="t" style="left:517.50px;width:120px;text-align:center;top:1887.30px;font-size:21.5px;">80</div>
<div class="t" style="left:600.00px;width:120px;text-align:center;top:1887.30px;font-size:21.5px;">320</div>
<div class="t" style="left:682.00px;width:120px;text-align:center;top:1887.30px;font-size:21.5px;">105</div>
<div class="t" style="left:764.50px;width:120px;text-align:center;top:1885.80px;font-size:21.5px;">741</div>
<div class="t" style="left:846.00px;width:120px;text-align:center;top:1885.80px;font-size:21.5px;">484</div>
<div class="t" style="left:928.75px;width:120px;text-align:center;top:1885.80px;font-size:21.5px;">1225</div>
<div class="t" style="left:1011.50px;width:120px;text-align:center;top:1885.80px;font-size:21.5px;">350</div>
<div class="t" style="left:1092.50px;width:120px;text-align:center;top:1885.80px;font-size:21.5px;">186</div>
<div class="t" style="left:1172.50px;width:120px;text-align:center;top:1885.80px;font-size:21.5px;">618</div>
<div class="t" style="left:1283.50px;width:120px;text-align:center;top:1885.80px;font-size:21.5px;">69</div>
<div class="t" style="left:1436.00px;width:120px;text-align:center;top:1885.80px;font-size:21.5px;">171</div>
<div class="t" style="left:43.00px;top:1910.32px;font-size:21px;letter-spacing:0.35px;">MXV 80-4807/D</div>
<div class="t" style="left:228.00px;width:120px;text-align:center;top:1910.90px;font-size:21.5px;">18,5</div>
<div class="t" style="left:310.00px;width:120px;text-align:center;top:1910.90px;font-size:21.5px;">25</div>
<div class="t" style="left:411.50px;width:120px;text-align:center;top:1910.90px;font-size:21.5px;">M160 V1</div>
<div class="t" style="left:517.50px;width:120px;text-align:center;top:1911.90px;font-size:21.5px;">80</div>
<div class="t" style="left:600.00px;width:120px;text-align:center;top:1911.90px;font-size:21.5px;">320</div>
<div class="t" style="left:682.00px;width:120px;text-align:center;top:1911.90px;font-size:21.5px;">105</div>
<div class="t" style="left:764.50px;width:120px;text-align:center;top:1910.40px;font-size:21.5px;">802</div>
<div class="t" style="left:846.00px;width:120px;text-align:center;top:1910.40px;font-size:21.5px;">484</div>
<div class="t" style="left:928.75px;width:120px;text-align:center;top:1910.40px;font-size:21.5px;">1286</div>
<div class="t" style="left:1011.50px;width:120px;text-align:center;top:1910.40px;font-size:21.5px;">350</div>
<div class="t" style="left:1092.50px;width:120px;text-align:center;top:1910.40px;font-size:21.5px;">186</div>
<div class="t" style="left:1172.50px;width:120px;text-align:center;top:1910.40px;font-size:21.5px;">679</div>
<div class="t" style="left:1283.50px;width:120px;text-align:center;top:1910.40px;font-size:21.5px;">72</div>
<div class="t" style="left:1436.00px;width:120px;text-align:center;top:1910.40px;font-size:21.5px;">178,5</div>
<div class="t" style="left:43.00px;top:1934.97px;font-size:21px;letter-spacing:0.35px;">MXV 80-4808/D</div>
<div class="t" style="left:228.00px;width:120px;text-align:center;top:1935.55px;font-size:21.5px;">22</div>
<div class="t" style="left:310.00px;width:120px;text-align:center;top:1935.55px;font-size:21.5px;">30</div>
<div class="t" style="left:411.50px;width:120px;text-align:center;top:1935.55px;font-size:21.5px;">M180 V1</div>
<div class="t" style="left:517.50px;width:120px;text-align:center;top:1936.55px;font-size:21.5px;">80</div>
<div class="t" style="left:600.00px;width:120px;text-align:center;top:1936.55px;font-size:21.5px;">320</div>
<div class="t" style="left:682.00px;width:120px;text-align:center;top:1936.55px;font-size:21.5px;">105</div>
<div class="t" style="left:764.50px;width:120px;text-align:center;top:1935.05px;font-size:21.5px;">864</div>
<div class="t" style="left:846.00px;width:120px;text-align:center;top:1935.05px;font-size:21.5px;">538</div>
<div class="t" style="left:928.75px;width:120px;text-align:center;top:1935.05px;font-size:21.5px;">1402</div>
<div class="t" style="left:1011.50px;width:120px;text-align:center;top:1935.05px;font-size:21.5px;">350</div>
<div class="t" style="left:1092.50px;width:120px;text-align:center;top:1935.05px;font-size:21.5px;">206</div>
<div class="t" style="left:1172.50px;width:120px;text-align:center;top:1935.05px;font-size:21.5px;">741</div>
<div class="t" style="left:1283.50px;width:120px;text-align:center;top:1935.05px;font-size:21.5px;">74</div>
<div class="t" style="left:1436.00px;width:120px;text-align:center;top:1935.05px;font-size:21.5px;">203</div>
<div class="t" style="left:15.50px;top:1979.05px;font-size:21.2px;letter-spacing:0.1px;">(4) Стандартное положение контактной коробки</div>
<div class="t" style="left:45.50px;top:2002.14px;font-size:21.1px;letter-spacing:0.08px;">(другие положения при поворачивании двигателя на 90° и 180°)</div>
<div class="t" style="left:871.50px;top:1978.90px;font-size:20.2px;">(5) MXV (L) : + 3 kg</div>
<div class="t" style="left:871.50px;top:2007.90px;font-size:20.2px;">MXV (H) : + 3 kg</div>
<div class="t" style="left:1122.50px;top:1978.65px;font-size:20.5px;">(6) <span style="display:inline-block;transform:scaleX(0.875);transform-origin:0 0">Со стандартным двигателем</span></div>
<div class="t" style="left:1456.00px;top:1978.65px;font-size:20.5px;">(7) <span style="display:inline-block;transform:scaleX(0.85);transform-origin:0 0">Вес нетто</span></div>
<div class="t" style="left:186.50px;top:26.55px;font-size:35.5px;transform:scaleX(0.935);transform-origin:0 0;font-weight:bold;">Размеры и вес</div>
<div class="t" style="left:35.50px;top:849.82px;font-size:21px;">(1) Заливка и стравливание</div>
<div class="t" style="left:35.50px;top:874.52px;font-size:21px;">(2) Стравливание давления на всасывании</div>
<div class="t" style="left:35.50px;top:898.72px;font-size:21px;">(3) Слив</div>
</body></html>
